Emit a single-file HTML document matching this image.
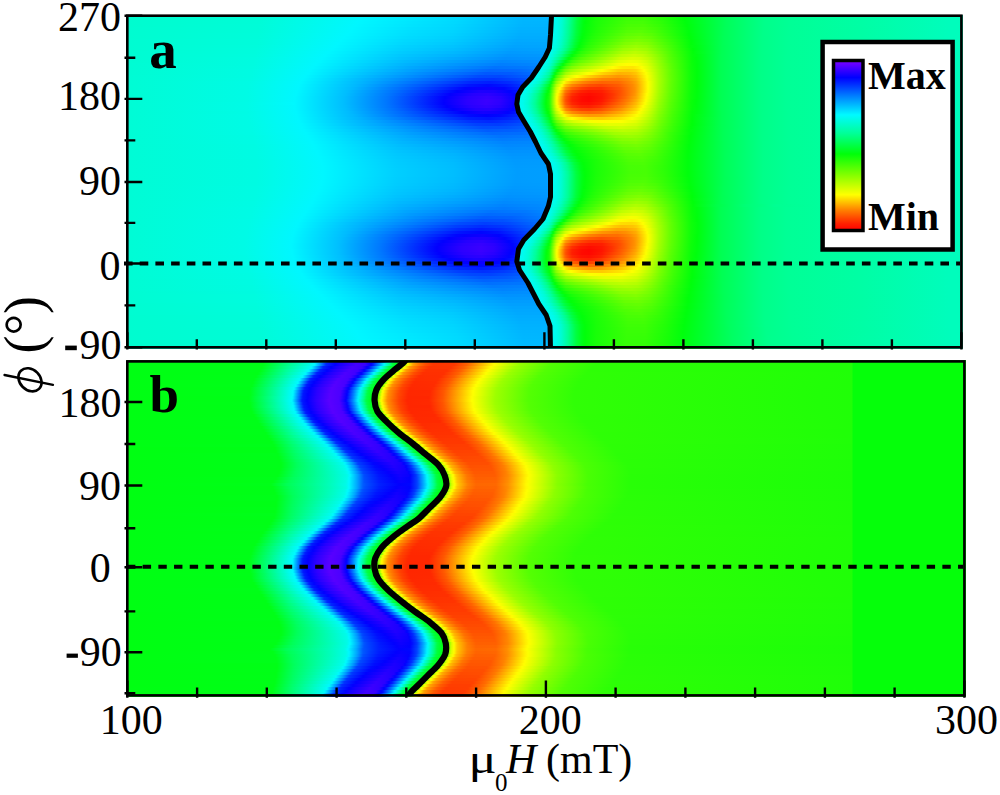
<!DOCTYPE html><html><head><meta charset="utf-8"><style>
html,body{margin:0;padding:0;background:#fff;width:1000px;height:795px;overflow:hidden}
.p{position:absolute;overflow:hidden}
.p i{display:block;height:3px}
svg{position:absolute;left:0;top:0}
text{font-family:"Liberation Serif",serif}
</style></head><body><div class="p" style="left:127px;top:15px;width:836px;height:334px"><i style="background:linear-gradient(90deg,#00fccf 0px,#00fcd6 132px,#00f7ff 235px,#00e7ff 290px,#00daff 331px,#00b8ff 397px,#00b7ff 423px,#00faf5 424px,#00fbed 430px,#00fcd4 435px,#00ff99 442px,#00ff42 450px,#00ff16 456px,#02ff0a 459px,#1aff08 470px,#3cff05 500px,#3bff05 518px,#21ff07 538px,#00ff0d 558px,#00ff5d 601px,#00ff8b 638px,#00ff96 664px,#00fea6 737px,#00fdbc 823px,#00fdbc 835px)"></i><i style="background:linear-gradient(90deg,#00fccf 0px,#00fcd7 132px,#00f7ff 233px,#00e6ff 289px,#00d9ff 330px,#00b6ff 396px,#00b6ff 423px,#00faf5 424px,#00fbec 430px,#00fcd3 435px,#00ff97 442px,#00ff41 450px,#00ff15 456px,#03ff0a 459px,#1bff08 470px,#3fff05 500px,#40ff05 517px,#28ff07 536px,#00ff0b 558px,#00ff5b 600px,#00ff8a 637px,#00ff96 663px,#00fea5 735px,#00fdbc 823px,#00fdbc 835px)"></i><i style="background:linear-gradient(90deg,#00fccf 0px,#00fcd7 131px,#00f7ff 231px,#00e4ff 288px,#00d8ff 329px,#00b5ff 396px,#00b4ff 423px,#00faf5 424px,#00fbeb 430px,#00fcd2 435px,#00ff96 442px,#00ff3f 450px,#00ff14 456px,#00ff0a 458px,#19ff08 468px,#42ff05 500px,#45ff05 516px,#30ff06 533px,#00ff0c 559px,#00ff59 599px,#00ff8a 637px,#00ff96 663px,#00fea5 735px,#00fdbc 823px,#00fdbc 835px)"></i><i style="background:linear-gradient(90deg,#00fccf 0px,#00fcd8 131px,#00f7ff 228px,#00e3ff 286px,#00d7ff 327px,#00b4ff 395px,#00b3ff 423px,#00fbf4 424px,#00fbeb 430px,#00fcd0 435px,#00ff93 442px,#00ff3d 450px,#00ff12 456px,#05ff0a 459px,#1fff08 471px,#48ff04 501px,#4aff04 517px,#33ff06 534px,#00ff0c 560px,#00ff59 599px,#00ff8a 637px,#00ff96 663px,#00fea5 735px,#00fdbc 823px,#00fdbc 835px)"></i><i style="background:linear-gradient(90deg,#00fcd0 0px,#00fcd8 131px,#00f7ff 225px,#00e1ff 284px,#00d6ff 326px,#00b2ff 394px,#00b1ff 423px,#00fbf4 424px,#00fbea 430px,#00fccf 435px,#00ff91 442px,#00ff3b 450px,#00ff10 456px,#07ff09 459px,#23ff07 472px,#4eff04 501px,#51ff04 516px,#3fff05 530px,#00ff0d 561px,#00ff58 598px,#00ff89 636px,#00ff96 662px,#00fea4 733px,#00fdbc 822px,#00fdbc 835px)"></i><i style="background:linear-gradient(90deg,#00fcd0 0px,#00fcd9 131px,#00f7ff 223px,#00dfff 283px,#00d4ff 326px,#00b0ff 394px,#00b0ff 423px,#00fbf4 424px,#00fbe9 430px,#00fccd 435px,#00ff8e 442px,#00ff41 449px,#00ff14 455px,#05ff0a 458px,#20ff07 469px,#54ff03 500px,#5aff03 514px,#4bff04 527px,#00ff0d 562px,#00ff56 597px,#00ff89 636px,#00ff96 662px,#00fea4 733px,#00fdbc 822px,#00fdbc 835px)"></i><i style="background:linear-gradient(90deg,#00fcd0 0px,#00fcda 131px,#00f7ff 220px,#00deff 281px,#00d2ff 325px,#00aeff 393px,#00aeff 423px,#00fbf4 424px,#00fbe8 430px,#00fccb 435px,#00ff8b 442px,#00ff3e 449px,#00ff11 455px,#04ff0a 457px,#20ff07 467px,#5dff03 500px,#64ff02 513px,#57ff03 525px,#00ff0b 562px,#00ff56 597px,#00ff89 636px,#00ff96 662px,#00fea4 733px,#00fdbc 822px,#00fdbc 835px)"></i><i style="background:linear-gradient(90deg,#00fcd0 0px,#00fcda 130px,#00f7ff 217px,#00dcff 279px,#00cfff 325px,#00acff 392px,#00acff 422px,#00fbf4 423px,#00fbea 429px,#00fccf 434px,#00ff92 441px,#00ff39 449px,#00ff0c 455px,#20ff08 465px,#66ff02 499px,#70ff01 512px,#62ff02 524px,#00ff0b 563px,#00ff55 596px,#00ff88 635px,#00ff96 661px,#00fea4 731px,#00fdbc 822px,#00fdbc 835px)"></i><i style="background:linear-gradient(90deg,#00fcd1 0px,#00fcdb 130px,#00f7ff 214px,#00d9ff 278px,#00ccff 325px,#00a9ff 390px,#00aaff 422px,#00fbf4 423px,#00fbe7 429px,#00fccc 434px,#00ff97 440px,#00ff3d 448px,#00ff0d 454px,#23ff07 464px,#72ff01 499px,#7cff00 511px,#71ff01 522px,#00ff0b 564px,#00ff55 596px,#00ff88 635px,#00ff96 661px,#00fea4 731px,#00fdbc 822px,#00fdbc 835px)"></i><i style="background:linear-gradient(90deg,#00fcd1 0px,#00fcdb 130px,#00f7ff 211px,#00d7ff 276px,#00c8ff 325px,#00a6ff 389px,#00a7ff 422px,#00fbf3 423px,#00fbe5 429px,#00fdc8 434px,#00ff91 440px,#00ff36 448px,#00ff0c 453px,#24ff07 462px,#7eff00 498px,#8bff00 510px,#7fff00 521px,#01ff0a 564px,#00ff55 596px,#00ff88 635px,#00ff96 661px,#00fea4 731px,#00fdbc 822px,#00fdbc 835px)"></i><i style="background:linear-gradient(90deg,#00fcd1 0px,#00fcdc 129px,#00f7ff 208px,#00d3ff 275px,#00c3ff 326px,#00a3ff 387px,#00a5ff 422px,#00fbf2 423px,#00fbe1 429px,#00fdc2 434px,#00ff88 440px,#00ff2d 448px,#00ff0b 452px,#26ff07 460px,#8bff00 497px,#9aff00 509px,#8eff00 520px,#05ff0a 563px,#00ff13 569px,#00ff53 595px,#00ff88 635px,#00ff96 661px,#00fea4 731px,#00fdbc 822px,#00fdbc 835px)"></i><i style="background:linear-gradient(90deg,#00fcd1 0px,#00fcdd 129px,#00f7ff 205px,#00d0ff 275px,#00beff 327px,#009fff 385px,#00a1ff 421px,#00fbf2 422px,#00fbe0 428px,#00fdb7 434px,#00ff90 438px,#00ff27 447px,#00ff0c 450px,#2aff07 458px,#9aff00 496px,#aaff00 509px,#9bff00 520px,#35ff06 549px,#00ff0a 566px,#00ff53 595px,#00ff88 635px,#00ff96 661px,#00fea4 731px,#00fdbc 822px,#00fdbc 835px)"></i><i style="background:linear-gradient(90deg,#00fcd2 0px,#00fcdd 128px,#00f7ff 201px,#00ccff 274px,#00b8ff 327px,#009aff 383px,#009dff 419px,#00fbf2 420px,#00fbeb 424px,#00fdc8 430px,#00ff91 436px,#00ff23 445px,#03ff0a 448px,#28ff07 454px,#51ff04 466px,#a9ff00 495px,#bbff00 508px,#acff00 519px,#40ff05 547px,#02ff0a 566px,#00ff53 595px,#00ff88 635px,#00ff96 661px,#00fea4 731px,#00fdbc 822px,#00fdbc 835px)"></i><i style="background:linear-gradient(90deg,#00fcd2 0px,#00fcde 128px,#00f7ff 198px,#00c7ff 274px,#00b1ff 328px,#0095ff 380px,#0098ff 415px,#0099ff 418px,#00fbf2 419px,#00fbeb 423px,#00fdc9 428px,#00ff91 434px,#00ff29 442px,#01ff0a 445px,#2cff07 451px,#51ff04 460px,#bdff00 495px,#ccff00 507px,#c1ff00 516px,#a2ff00 525px,#4bff04 545px,#06ff0a 565px,#00ff11 570px,#00ff52 594px,#00ff87 634px,#00ff96 660px,#00fea3 730px,#00fdbc 822px,#00fdbc 835px)"></i><i style="background:linear-gradient(90deg,#00fcd2 0px,#00fcdf 127px,#00f7ff 195px,#00c2ff 275px,#00a8ff 330px,#008fff 378px,#0093ff 413px,#0094ff 416px,#00fbf2 417px,#00fbe9 422px,#00fccc 426px,#00ff8d 432px,#00ff20 440px,#01ff0a 442px,#2bff07 447px,#50ff04 454px,#cdff00 493px,#ddff00 505px,#d9ff00 512px,#bfff00 521px,#53ff04 544px,#07ff09 565px,#00ff0d 569px,#00ff52 594px,#00ff87 634px,#00ff96 660px,#00fea3 730px,#00fdbc 822px,#00fdbc 835px)"></i><i style="background:linear-gradient(90deg,#00fcd2 0px,#00fbe0 127px,#00f7ff 192px,#00bbff 277px,#009eff 332px,#0087ff 375px,#008cff 410px,#008eff 414px,#00fbf3 415px,#00fbe6 421px,#00fcd0 424px,#00ff95 429px,#00ff12 438px,#04ff0a 439px,#3cff05 445px,#61ff02 452px,#e0ff00 492px,#efff00 504px,#ebff00 511px,#d0ff00 520px,#5fff03 542px,#09ff09 565px,#00ff0e 570px,#00ff52 594px,#00ff87 634px,#00ff96 660px,#00fea3 730px,#00fdbc 822px,#00fdbc 835px)"></i><i style="background:linear-gradient(90deg,#00fcd3 0px,#00fbe0 126px,#00f7ff 189px,#00b3ff 279px,#0091ff 337px,#007eff 374px,#0085ff 408px,#0088ff 412px,#00faf5 413px,#00fbe6 419px,#00fccd 423px,#00ff98 427px,#00ff44 432px,#02ff0a 436px,#33ff06 440px,#5cff03 445px,#81ff00 453px,#f4ff00 491px,#fffd00 500px,#fdff00 510px,#dbff00 520px,#88ff00 535px,#57ff03 545px,#0aff09 565px,#00ff0d 570px,#00ff52 594px,#00ff87 634px,#00ff96 660px,#00fea3 730px,#00fdbc 822px,#00fdbc 835px)"></i><i style="background:linear-gradient(90deg,#00fcd3 0px,#00fbe1 126px,#00f7ff 186px,#00a9ff 283px,#0073ff 368px,#0079ff 399px,#0080ff 410px,#00faf5 411px,#00fbec 416px,#00fcd0 421px,#00fdbd 423px,#00ff8c 426px,#00ff3b 430px,#00ff0b 433px,#50ff04 439px,#7eff00 445px,#a5ff00 455px,#fffe00 486px,#ffe800 495px,#ffe500 506px,#fff100 511px,#fcff00 515px,#daff00 522px,#97ff00 533px,#59ff03 545px,#0dff09 564px,#00ff0d 570px,#00ff52 594px,#00ff87 634px,#00ff96 660px,#00fea3 730px,#00fdbc 822px,#00fdbc 835px)"></i><i style="background:linear-gradient(90deg,#00fcd3 0px,#00fbe2 125px,#00f7ff 183px,#009dff 288px,#0067ff 363px,#006bff 391px,#0077ff 408px,#00faf5 409px,#00fbf2 413px,#00fcd8 418px,#00fdb7 422px,#00ff97 424px,#00ff10 430px,#09ff09 431px,#6dff01 438px,#96ff00 443px,#b6ff00 450px,#fffe00 475px,#ffd000 491px,#ffcb00 501px,#ffd600 509px,#ffff00 517px,#c1ff00 527px,#96ff00 534px,#5cff03 545px,#0eff09 564px,#00ff0c 570px,#00ff52 594px,#00ff87 634px,#00ff96 660px,#00fea3 730px,#00fdbc 822px,#00fdbc 835px)"></i><i style="background:linear-gradient(90deg,#00fcd3 0px,#00fbe2 124px,#00f7ff 181px,#008eff 294px,#0058ff 359px,#005bff 384px,#006dff 406px,#00faf5 407px,#00fbed 413px,#00fdca 418px,#00fea3 422px,#00ff92 423px,#00ff13 428px,#0fff09 429px,#41ff05 432px,#a0ff00 439px,#c7ff00 445px,#fbff00 461px,#fff800 465px,#ffcf00 477px,#ffb100 492px,#ffb700 503px,#ffc500 509px,#fdff00 519px,#9eff00 533px,#61ff02 544px,#0fff09 564px,#00ff0c 570px,#00ff52 594px,#00ff87 634px,#00ff96 660px,#00fea3 730px,#00fdbc 822px,#00fdbc 835px)"></i><i style="background:linear-gradient(90deg,#00fcd4 0px,#00fbe2 123px,#00f7ff 178px,#004aff 352px,#0047ff 373px,#0060ff 403px,#0061ff 404px,#00faf5 405px,#00fbee 411px,#00fcdd 414px,#00fea4 420px,#00ff8b 422px,#00ff76 423px,#00ff21 426px,#04ff0a 427px,#35ff06 429px,#5aff03 431px,#bdff00 438px,#dcff00 442px,#f4ff00 447px,#ffff00 450px,#ffce00 463px,#ffa900 476px,#ff9600 491px,#ffa000 501px,#ffb600 509px,#fdff00 520px,#a6ff00 532px,#62ff02 544px,#0fff09 564px,#00ff0c 570px,#00ff52 594px,#00ff87 634px,#00ff96 660px,#00fea3 730px,#00fdbc 822px,#00fdbc 835px)"></i><i style="background:linear-gradient(90deg,#00fcd4 0px,#00fbe3 123px,#00f7ff 176px,#00abff 247px,#0039ff 347px,#0033ff 367px,#0046ff 391px,#0055ff 402px,#00faf5 403px,#00fbec 409px,#00fcd7 413px,#00ff97 419px,#00ff6b 422px,#00ff54 423px,#00ff17 425px,#0fff09 426px,#5eff03 429px,#82ff00 431px,#e4ff00 438px,#fcff00 441px,#ffdb00 447px,#ffa600 460px,#ff8300 475px,#ff7d00 491px,#ff8e00 501px,#ffa900 509px,#fff200 519px,#fffb00 520px,#d4ff00 526px,#a8ff00 532px,#63ff02 544px,#0fff09 564px,#00ff0c 570px,#00ff52 594px,#00ff87 634px,#00ff96 660px,#00fea3 730px,#00fdbc 822px,#00fdbc 835px)"></i><i style="background:linear-gradient(90deg,#00fcd4 0px,#00fbe4 122px,#00f7ff 174px,#00b3ff 236px,#0028ff 343px,#001eff 363px,#002dff 383px,#0045ff 399px,#00faf5 400px,#00fbed 406px,#00fcd3 411px,#00fdb8 414px,#00ff83 418px,#00ff47 422px,#00ff2f 423px,#00ff0f 424px,#34ff06 426px,#85ff00 429px,#a9ff00 431px,#fcff00 437px,#ffe300 439px,#ffb300 445px,#ff8400 456px,#ff7200 463px,#ff6300 475px,#ff6b00 492px,#ff8b00 504px,#ffa000 509px,#ffed00 519px,#fdff00 521px,#a8ff00 532px,#62ff02 544px,#0eff09 564px,#00ff0c 570px,#00ff52 594px,#00ff87 634px,#00ff96 660px,#00fea3 730px,#00fdbc 822px,#00fdbc 835px)"></i><i style="background:linear-gradient(90deg,#00fcd4 0px,#00fbe4 121px,#00f7ff 172px,#00b8ff 229px,#0015ff 341px,#0009ff 361px,#0017ff 379px,#0034ff 396px,#00faf5 397px,#00fbed 403px,#00fcd4 408px,#00feab 413px,#00ff26 422px,#00ff0f 423px,#54ff03 426px,#a6ff00 429px,#bbff00 430px,#ffff00 435px,#ffc400 438px,#ffad00 440px,#ff8500 445px,#ff6000 455px,#ff4f00 462px,#ff4500 474px,#ff5c00 492px,#ff8a00 506px,#ffa100 510px,#fff600 520px,#feff00 521px,#a7ff00 532px,#61ff02 544px,#0eff09 564px,#00ff0c 570px,#00ff52 594px,#00ff87 634px,#00ff96 660px,#00fea3 730px,#00fdbc 822px,#00fdbc 835px)"></i><i style="background:linear-gradient(90deg,#00fcd4 0px,#00fbe4 121px,#00f7ff 171px,#00baff 225px,#0060ff 282px,#0004ff 338px,#0800ff 350px,#0b00ff 364px,#0004ff 377px,#0025ff 394px,#00faf5 395px,#00fbec 401px,#00fcd2 406px,#00ffa0 412px,#00ff85 414px,#00ff1c 421px,#00ff0f 422px,#11ff09 423px,#c0ff00 429px,#d5ff00 430px,#ffff00 433px,#ffb300 437px,#ff9d00 438px,#ff8e00 439px,#ff6100 445px,#ff3d00 455px,#ff2f00 462px,#ff2d00 474px,#ff5400 493px,#ff9000 508px,#ffec00 519px,#fdff00 521px,#a6ff00 532px,#60ff02 544px,#0eff09 564px,#00ff0d 570px,#00ff52 594px,#00ff87 634px,#00ff96 660px,#00fea3 730px,#00fdbc 822px,#00fdbc 835px)"></i><i style="background:linear-gradient(90deg,#00fcd5 0px,#00fbe5 120px,#00f7ff 170px,#00bcff 221px,#006fff 269px,#0100ff 330px,#1e00ff 353px,#1b00ff 367px,#0003ff 384px,#0015ff 392px,#00faf5 393px,#00fbed 399px,#00fcd4 404px,#00ff99 411px,#00ff71 414px,#00ff18 420px,#00ff0b 421px,#0aff09 422px,#1fff08 423px,#b6ff00 428px,#d3ff00 429px,#e8ff00 430px,#f7ff00 431px,#fff700 432px,#ffab00 436px,#ff7e00 438px,#ff6900 440px,#ff4400 445px,#ff2300 454px,#ff1800 462px,#ff1e00 475px,#ff4f00 493px,#ff9100 508px,#ffef00 519px,#fbff00 521px,#a4ff00 532px,#5fff03 544px,#0dff09 564px,#00ff0d 570px,#00ff52 594px,#00ff87 634px,#00ff96 660px,#00fea3 730px,#00fdbc 822px,#00fdbc 835px)"></i><i style="background:linear-gradient(90deg,#00fcd5 0px,#00fbe5 120px,#00f7ff 169px,#00bdff 219px,#0073ff 264px,#0300ff 323px,#2600ff 346px,#2d00ff 361px,#1d00ff 375px,#0002ff 388px,#0007ff 390px,#00faf5 391px,#00fbee 397px,#00fcd5 402px,#00ff9c 409px,#00ff6e 413px,#00ff16 419px,#00ff0a 420px,#15ff08 422px,#2aff07 423px,#c4ff00 428px,#e1ff00 429px,#f7ff00 430px,#fff600 431px,#ff9500 436px,#ff6a00 438px,#ff5500 440px,#ff2f00 445px,#ff1500 453px,#ff0c00 462px,#ff1700 475px,#ff3500 486px,#ff6400 498px,#ff9500 508px,#ffff00 520px,#a1ff00 532px,#5dff03 544px,#0cff09 564px,#00ff0e 570px,#00ff52 594px,#00ff87 634px,#00ff96 660px,#00fea3 730px,#00fdbc 822px,#00fdbc 835px)"></i><i style="background:linear-gradient(90deg,#00fcd5 0px,#00fbe5 120px,#00f7ff 168px,#00beff 217px,#0077ff 260px,#0100ff 318px,#2900ff 341px,#3600ff 360px,#2a00ff 373px,#0001ff 390px,#00faf5 391px,#00fbec 397px,#00fcd1 402px,#00ff96 409px,#00ff67 413px,#00ff11 419px,#05ff0a 420px,#1aff08 422px,#2fff06 423px,#cbff00 428px,#e9ff00 429px,#ffff00 430px,#ff5e00 438px,#ff4800 440px,#ff2200 445px,#ff0b00 455px,#ff0600 462px,#ff1500 475px,#ff3400 485px,#ff6900 498px,#ffa300 509px,#fffa00 519px,#f3ff00 521px,#9eff00 532px,#5bff03 544px,#0cff09 564px,#00ff0e 570px,#00ff52 594px,#00ff87 634px,#00ff96 660px,#00fea3 730px,#00fdbc 822px,#00fdbc 835px)"></i><i style="background:linear-gradient(90deg,#00fcd5 0px,#00fbe5 120px,#00f7ff 168px,#00beff 217px,#0076ff 260px,#0300ff 317px,#2b00ff 340px,#3a00ff 360px,#2e00ff 373px,#0500ff 389px,#00faf5 390px,#00fbee 396px,#00fcd5 401px,#00ff9b 408px,#00ff63 413px,#00ff0e 419px,#1cff08 422px,#31ff06 423px,#cdff00 428px,#ebff00 429px,#fffb00 430px,#ff5a00 438px,#ff4c00 439px,#ff1f00 445px,#ff0a00 455px,#ff0600 462px,#ff1800 475px,#ff4700 488px,#ff8500 502px,#ffad00 509px,#fdff00 519px,#9aff00 532px,#59ff03 544px,#0bff09 564px,#00ff0c 569px,#00ff52 594px,#00ff87 634px,#00ff96 660px,#00fea3 730px,#00fdbc 822px,#00fdbc 835px)"></i><i style="background:linear-gradient(90deg,#00fcd5 0px,#00fbe6 120px,#00f8ff 167px,#00bfff 216px,#0078ff 259px,#0100ff 317px,#2a00ff 340px,#3900ff 359px,#2e00ff 372px,#0400ff 389px,#00faf5 390px,#00fbec 396px,#00fcd2 401px,#00ff98 408px,#00ff5f 413px,#00ff0c 419px,#1dff08 422px,#31ff06 423px,#cbff00 428px,#e8ff00 429px,#feff00 430px,#ff8b00 436px,#ff6200 438px,#ff4c00 440px,#ff2700 445px,#ff1100 454px,#ff0e00 462px,#ff1f00 474px,#ff7900 497px,#ffb900 509px,#fdff00 518px,#96ff00 532px,#56ff03 544px,#0aff09 564px,#00ff0d 569px,#00ff52 594px,#00ff87 634px,#00ff96 660px,#00fea3 730px,#00fdbc 822px,#00fdbc 835px)"></i><i style="background:linear-gradient(90deg,#00fcd5 0px,#00fbe6 120px,#00f7ff 168px,#00bdff 218px,#0074ff 262px,#0100ff 320px,#2800ff 344px,#3200ff 360px,#2600ff 373px,#0001ff 389px,#00faf5 390px,#00fbee 396px,#00fcd6 401px,#00ff9c 408px,#00ff64 413px,#00ff10 419px,#0fff09 421px,#18ff08 422px,#2cff07 423px,#c0ff00 428px,#ddff00 429px,#f2ff00 430px,#fffd00 431px,#ffa000 436px,#ff7500 438px,#ff6000 440px,#ff3d00 445px,#ff2200 454px,#ff1e00 462px,#ff3400 474px,#ff8500 496px,#ffc700 509px,#fffe00 516px,#caff00 524px,#92ff00 532px,#54ff03 544px,#07ff09 565px,#00ff10 570px,#00ff52 594px,#00ff87 634px,#00ff96 660px,#00fea3 730px,#00fdbc 822px,#00fdbc 835px)"></i><i style="background:linear-gradient(90deg,#00fcd5 0px,#00fbe6 120px,#00f7ff 168px,#00bdff 219px,#0071ff 266px,#0100ff 326px,#2200ff 349px,#2500ff 363px,#1100ff 378px,#0002ff 386px,#000bff 390px,#00faf5 391px,#00fbed 397px,#00fcd3 402px,#00ff99 409px,#00ff6b 413px,#00ff17 419px,#00ff0c 420px,#12ff09 422px,#25ff07 423px,#b1ff00 428px,#cbff00 429px,#dfff00 430px,#faff00 432px,#fff500 433px,#ffab00 437px,#ff9700 438px,#ff8800 439px,#ff5f00 445px,#ff4400 454px,#ff3e00 462px,#ff5000 474px,#ff9100 494px,#ffd700 509px,#fffc00 514px,#d7ff00 521px,#8dff00 532px,#51ff04 544px,#06ff0a 565px,#00ff11 570px,#00ff52 594px,#00ff87 634px,#00ff96 660px,#00fea3 730px,#00fdbc 822px,#00fdbc 835px)"></i><i style="background:linear-gradient(90deg,#00fcd5 0px,#00fbe5 120px,#00f7ff 169px,#00bbff 222px,#0069ff 274px,#0000ff 335px,#1500ff 356px,#0f00ff 370px,#0003ff 381px,#0018ff 391px,#00faf5 392px,#00fbec 398px,#00fcd2 403px,#00ff97 410px,#00ff65 414px,#00ff15 420px,#00ff0a 421px,#0aff09 422px,#1cff08 423px,#b5ff00 429px,#d3ff00 431px,#f7ff00 434px,#fffa00 435px,#ffc400 438px,#ffaf00 440px,#ff8b00 445px,#ff7000 454px,#ff6700 462px,#ff7200 474px,#ffaf00 495px,#ffe900 509px,#fffd00 512px,#ceff00 521px,#88ff00 532px,#4aff04 545px,#04ff0a 565px,#00ff12 570px,#00ff53 595px,#00ff88 635px,#00ff96 661px,#00fea4 731px,#00fdbc 822px,#00fdbc 835px)"></i><i style="background:linear-gradient(90deg,#00fcd5 0px,#00fbe6 121px,#00f7ff 170px,#00b8ff 226px,#003dff 307px,#000aff 342px,#0100ff 359px,#0008ff 374px,#0028ff 393px,#00faf5 394px,#00fbeb 400px,#00fcd0 405px,#00ff94 412px,#00ff26 420px,#00ff10 422px,#0cff09 423px,#99ff00 429px,#b5ff00 431px,#f8ff00 437px,#fff700 438px,#ffe400 440px,#ffc400 445px,#ffa400 455px,#ff9900 462px,#ff9d00 474px,#ffca00 495px,#fcff00 510px,#c5ff00 521px,#82ff00 532px,#47ff04 545px,#03ff0a 565px,#00ff28 578px,#00ff53 595px,#00ff88 635px,#00ff96 661px,#00fea4 731px,#00fdbc 822px,#00fdbc 835px)"></i><i style="background:linear-gradient(90deg,#00fcd5 0px,#00fbe6 122px,#00f7ff 171px,#00b5ff 231px,#001eff 342px,#0013ff 362px,#0022ff 381px,#0036ff 394px,#00faf5 395px,#00fbee 401px,#00fcd5 406px,#00ff9b 413px,#00ff2e 421px,#00ff22 422px,#00ff10 423px,#28ff07 425px,#7bff00 429px,#95ff00 431px,#e4ff00 439px,#ffff00 445px,#ffdc00 457px,#ffd100 464px,#ffcc00 475px,#ffe400 494px,#fcff00 505px,#e5ff00 512px,#b5ff00 522px,#78ff01 533px,#44ff05 545px,#02ff0a 565px,#00ff53 595px,#00ff88 635px,#00ff96 661px,#00fea4 731px,#00fdbc 822px,#00fdbc 835px)"></i><i style="background:linear-gradient(90deg,#00fcd5 0px,#00fbe5 122px,#00f7ff 172px,#00b1ff 238px,#0030ff 345px,#0027ff 365px,#0039ff 387px,#0045ff 396px,#00faf5 397px,#00fbed 403px,#00fcd4 408px,#00feab 413px,#00ff37 422px,#00ff0f 424px,#37ff06 427px,#69ff02 430px,#bbff00 439px,#d7ff00 447px,#f7ff00 463px,#fffb00 474px,#fcff00 494px,#e2ff00 509px,#b1ff00 521px,#72ff01 533px,#3eff05 546px,#01ff0a 565px,#00ff53 595px,#00ff88 635px,#00ff96 661px,#00fea4 731px,#00fdbc 822px,#00fdbc 835px)"></i><i style="background:linear-gradient(90deg,#00fcd5 0px,#00fbe5 123px,#00f7ff 174px,#00a6ff 252px,#0040ff 350px,#003cff 371px,#0052ff 398px,#00faf5 399px,#00fbec 405px,#00fcd3 410px,#00feb1 414px,#00ff74 419px,#00ff3d 423px,#00ff14 425px,#09ff09 426px,#49ff04 430px,#94ff00 439px,#aeff00 447px,#d5ff00 467px,#e5ff00 481px,#e4ff00 496px,#d0ff00 510px,#a7ff00 521px,#69ff02 534px,#3bff05 546px,#00ff0a 565px,#00ff53 595px,#00ff88 635px,#00ff96 661px,#00fea4 731px,#00fdbc 822px,#00fdbc 835px)"></i><i style="background:linear-gradient(90deg,#00fcd5 0px,#00fbe5 124px,#00f7ff 175px,#0083ff 297px,#004eff 356px,#004fff 379px,#005fff 400px,#00faf5 401px,#00fbec 407px,#00fcd2 412px,#00ff98 418px,#00ff55 423px,#00ff0c 427px,#29ff07 430px,#6aff02 438px,#86ff00 446px,#c3ff00 477px,#d0ff00 494px,#c3ff00 509px,#9cff00 521px,#5fff03 535px,#34ff06 547px,#01ff0a 564px,#00ff53 595px,#00ff88 635px,#00ff96 661px,#00fea4 731px,#00fdbc 822px,#00fdbc 835px)"></i><i style="background:linear-gradient(90deg,#00fcd5 0px,#00fbe5 124px,#00f7ff 177px,#0092ff 290px,#005cff 361px,#0060ff 388px,#0069ff 402px,#00faf5 403px,#00fbeb 409px,#00fccf 414px,#00ff96 420px,#00ff6e 423px,#00ff0b 429px,#35ff06 435px,#50ff04 439px,#6aff02 448px,#afff00 482px,#bbff00 496px,#b2ff00 510px,#92ff00 521px,#4fff04 538px,#04ff0a 562px,#00ff14 568px,#00ff55 596px,#00ff88 635px,#00ff96 661px,#00fea4 731px,#00fdbc 822px,#00fdbc 835px)"></i><i style="background:linear-gradient(90deg,#00fcd5 0px,#00fbe5 125px,#00f7ff 179px,#009fff 284px,#0069ff 366px,#006eff 396px,#0072ff 403px,#00faf5 404px,#00fbed 410px,#00fcd3 415px,#00ff93 422px,#00ff1c 430px,#03ff0a 432px,#35ff06 439px,#4fff04 448px,#a0ff00 487px,#aaff00 500px,#a2ff00 511px,#85ff00 522px,#39ff06 543px,#00ff0c 564px,#00ff55 596px,#00ff88 635px,#00ff96 661px,#00fea4 731px,#00fdbc 822px,#00fdbc 835px)"></i><i style="background:linear-gradient(90deg,#00fcd5 0px,#00fbe4 126px,#00f7ff 181px,#00a9ff 280px,#0083ff 341px,#0073ff 374px,#007aff 405px,#00faf5 406px,#00fbec 412px,#00fccf 417px,#00ff99 423px,#00ff37 430px,#00ff0e 434px,#12ff09 437px,#2eff06 443px,#91ff00 490px,#9aff00 504px,#92ff00 513px,#76ff01 524px,#2eff06 546px,#00ff0b 563px,#00ff55 596px,#00ff88 635px,#00ff96 661px,#00fea4 731px,#00fdbc 822px,#00fdbc 835px)"></i><i style="background:linear-gradient(90deg,#00fcd5 0px,#00fbe4 126px,#00f7ff 183px,#00b1ff 276px,#0092ff 334px,#007cff 375px,#0081ff 406px,#00faf5 407px,#00fbed 413px,#00fcd3 418px,#00fea9 423px,#00ff3a 432px,#00ff0c 437px,#1fff08 444px,#65ff02 477px,#86ff00 495px,#8bff00 509px,#76ff01 521px,#24ff07 549px,#00ff0c 563px,#00ff55 596px,#00ff88 635px,#00ff96 661px,#00fea4 731px,#00fdbc 822px,#00fdbc 835px)"></i><i style="background:linear-gradient(90deg,#00fcd5 0px,#00fbe4 127px,#00f7ff 185px,#00b7ff 274px,#009cff 331px,#0084ff 376px,#0087ff 408px,#00faf5 409px,#00fbeb 415px,#00fcd0 420px,#00fea4 425px,#00ff3b 434px,#00ff11 439px,#04ff0a 441px,#1dff08 449px,#4eff04 474px,#78ff01 495px,#80ff00 509px,#6bff02 522px,#17ff08 553px,#00ff0d 563px,#00ff56 597px,#00ff89 636px,#00ff96 662px,#00fea4 733px,#00fdbc 822px,#00fdbc 835px)"></i><i style="background:linear-gradient(90deg,#00fcd5 0px,#00fbe3 127px,#00f7ff 187px,#00bdff 272px,#00a3ff 330px,#0089ff 379px,#008bff 409px,#00faf5 410px,#00fbed 416px,#00fcd4 421px,#00ff9f 427px,#00ff3b 436px,#00ff15 441px,#00ff0a 443px,#19ff08 452px,#46ff05 476px,#6dff01 496px,#74ff01 510px,#64ff02 522px,#00ff0c 562px,#00ff56 597px,#00ff89 636px,#00ff96 662px,#00fea4 733px,#00fdbc 822px,#00fdbc 835px)"></i><i style="background:linear-gradient(90deg,#00fcd5 0px,#00fbe3 128px,#00f7ff 188px,#00c2ff 270px,#00aaff 329px,#008eff 381px,#0090ff 411px,#00faf5 412px,#00fbeb 418px,#00fcd0 423px,#00ff8f 430px,#00ff39 438px,#00ff11 444px,#05ff0a 447px,#23ff07 463px,#63ff02 497px,#6aff02 511px,#5bff03 523px,#00ff0d 562px,#00ff56 597px,#00ff89 636px,#00ff96 662px,#00fea4 733px,#00fdbc 822px,#00fdbc 835px)"></i><i style="background:linear-gradient(90deg,#00fcd5 0px,#00fbe3 128px,#00f7ff 190px,#00c5ff 270px,#00afff 328px,#0092ff 383px,#0093ff 412px,#00faf5 413px,#00fbec 419px,#00fcd3 424px,#00ff96 431px,#00ff40 439px,#00ff16 445px,#01ff0a 448px,#1aff08 461px,#5dff03 499px,#62ff02 512px,#51ff04 525px,#00ff0b 561px,#00ff56 597px,#00ff89 636px,#00ff96 662px,#00fea4 733px,#00fdbc 822px,#00fdbc 835px)"></i><i style="background:linear-gradient(90deg,#00fcd5 0px,#00fbe3 128px,#00f7ff 191px,#00c8ff 269px,#00b4ff 327px,#0095ff 385px,#0096ff 414px,#00faf5 415px,#00fbec 421px,#00fcd1 426px,#00ff94 433px,#00ff48 440px,#00ff1b 446px,#00ff0a 450px,#1bff08 464px,#56ff03 500px,#5aff03 513px,#4bff04 526px,#00ff0c 561px,#00ff58 598px,#00ff89 636px,#00ff96 662px,#00fea4 733px,#00fdbc 822px,#00fdbc 835px)"></i><i style="background:linear-gradient(90deg,#00fcd5 0px,#00fbe3 129px,#00f7ff 193px,#00caff 269px,#00b7ff 327px,#0098ff 386px,#0098ff 416px,#00faf5 417px,#00fbec 423px,#00fcd1 428px,#00ff95 435px,#00ff40 443px,#00ff17 449px,#00ff0a 452px,#19ff08 465px,#51ff04 501px,#54ff03 515px,#41ff05 529px,#00ff0c 561px,#00ff58 598px,#00ff89 636px,#00ff96 662px,#00fea4 733px,#00fdbc 822px,#00fdbc 835px)"></i><i style="background:linear-gradient(90deg,#00fcd5 0px,#00fbe2 129px,#00f7ff 194px,#00ccff 269px,#00baff 326px,#009aff 387px,#009bff 418px,#00faf5 419px,#00fbec 425px,#00fcd2 430px,#00ff96 437px,#00ff40 445px,#00ff17 451px,#03ff0a 455px,#27ff07 476px,#4dff04 502px,#4fff04 516px,#3bff05 531px,#00ff0d 561px,#00ff58 598px,#00ff89 636px,#00ff96 662px,#00fea4 733px,#00fdbc 822px,#00fdbc 835px)"></i><i style="background:linear-gradient(90deg,#00fcd5 0px,#00fbe2 129px,#00f7ff 195px,#00cdff 269px,#00bcff 326px,#009bff 388px,#009cff 420px,#00faf5 421px,#00fbec 427px,#00fcd2 432px,#00ff96 439px,#00ff40 447px,#00ff16 453px,#01ff0a 456px,#19ff08 468px,#49ff04 502px,#4bff04 517px,#34ff06 534px,#00ff0d 561px,#00ff58 598px,#00ff89 636px,#00ff96 662px,#00fea4 733px,#00fdbc 822px,#00fdbc 835px)"></i><i style="background:linear-gradient(90deg,#00fcd5 0px,#00fbe2 129px,#00f7ff 196px,#00ceff 269px,#00bdff 326px,#009cff 389px,#009dff 421px,#00faf5 422px,#00fbeb 428px,#00fcd1 433px,#00ff94 440px,#00ff3f 448px,#00ff15 454px,#02ff0a 457px,#1aff08 469px,#46ff05 502px,#48ff04 518px,#2fff06 536px,#00ff0d 561px,#00ff58 598px,#00ff89 636px,#00ff96 662px,#00fea4 733px,#00fdbc 822px,#00fdbc 835px)"></i><i style="background:linear-gradient(90deg,#00fcd5 0px,#00fbe2 129px,#00f7ff 196px,#00cfff 269px,#00beff 326px,#009dff 389px,#009eff 422px,#00faf5 423px,#00fbea 429px,#00fcce 434px,#00ff90 441px,#00ff44 448px,#00ff18 454px,#00ff0a 457px,#18ff08 468px,#46ff05 503px,#47ff04 519px,#2bff07 538px,#00ff0d 561px,#00ff58 598px,#00ff89 636px,#00ff96 662px,#00fea4 733px,#00fdbc 822px,#00fdbc 835px)"></i><i style="background:linear-gradient(90deg,#00fcd5 0px,#00fbe2 129px,#00f7ff 196px,#00cfff 269px,#00beff 326px,#009dff 390px,#009eff 422px,#00faf5 423px,#00fbec 429px,#00fcd2 434px,#00ff97 441px,#00ff40 449px,#00ff15 455px,#02ff0a 458px,#1bff08 470px,#45ff05 503px,#47ff04 519px,#2cff07 538px,#00ff0c 561px,#00ff58 598px,#00ff89 636px,#00ff96 662px,#00fea4 733px,#00fdbc 822px,#00fdbc 835px)"></i><i style="background:linear-gradient(90deg,#00fcd5 0px,#00fbe2 129px,#00f7ff 196px,#00cfff 269px,#00beff 326px,#009dff 389px,#009eff 422px,#00faf5 423px,#00fbed 429px,#00fcd4 434px,#00ff9a 441px,#00ff43 449px,#00ff17 455px,#01ff0a 458px,#1aff08 469px,#47ff04 503px,#48ff04 519px,#2fff06 537px,#00ff0c 561px,#00ff58 598px,#00ff89 636px,#00ff96 662px,#00fea4 733px,#00fdbc 822px,#00fdbc 835px)"></i><i style="background:linear-gradient(90deg,#00fcd5 0px,#00fbe2 129px,#00f7ff 196px,#00ceff 269px,#00bdff 326px,#009dff 389px,#009eff 422px,#00faf5 423px,#00fbed 429px,#00fcd4 434px,#00ff99 441px,#00ff43 449px,#00ff16 455px,#02ff0a 458px,#1bff08 469px,#49ff04 503px,#4bff04 519px,#31ff06 537px,#00ff0d 562px,#00ff56 597px,#00ff89 636px,#00ff96 662px,#00fea4 733px,#00fdbc 822px,#00fdbc 835px)"></i><i style="background:linear-gradient(90deg,#00fcd5 0px,#00fbe2 129px,#00f7ff 195px,#00cdff 269px,#00bcff 326px,#009cff 388px,#009eff 422px,#00faf5 423px,#00fbed 429px,#00fcd4 434px,#00ff99 441px,#00ff42 449px,#00ff16 455px,#02ff0a 458px,#1cff08 469px,#4dff04 503px,#50ff04 518px,#3aff05 534px,#00ff0c 562px,#00ff56 597px,#00ff89 636px,#00ff96 662px,#00fea4 733px,#00fdbc 822px,#00fdbc 835px)"></i><i style="background:linear-gradient(90deg,#00fcd5 0px,#00fbe2 129px,#00f7ff 194px,#00ccff 269px,#00baff 326px,#009bff 388px,#009dff 422px,#00faf5 423px,#00fbec 429px,#00fcd4 434px,#00ff99 441px,#00ff42 449px,#00ff15 455px,#03ff0a 458px,#1dff08 469px,#52ff04 502px,#57ff03 516px,#48ff04 529px,#00ff0d 563px,#00ff56 597px,#00ff89 636px,#00ff96 662px,#00fea4 733px,#00fdbc 822px,#00fdbc 835px)"></i><i style="background:linear-gradient(90deg,#00fcd5 0px,#00fbe3 129px,#00f7ff 193px,#00caff 269px,#00b8ff 327px,#0099ff 387px,#009cff 422px,#00fbf4 423px,#00fbec 429px,#00fcd4 434px,#00ff98 441px,#00ff41 449px,#00ff14 455px,#00ff0a 457px,#1cff08 467px,#59ff03 502px,#5fff03 515px,#50ff04 528px,#00ff0b 563px,#00ff55 596px,#00ff88 635px,#00ff96 661px,#00fea4 731px,#00fdbc 822px,#00fdbc 835px)"></i><i style="background:linear-gradient(90deg,#00fcd5 0px,#00fbe3 129px,#00f7ff 192px,#00c8ff 269px,#00b5ff 327px,#0097ff 385px,#009aff 422px,#00fbf4 423px,#00fbec 429px,#00fcd3 434px,#00ff97 441px,#00ff3f 449px,#00ff12 455px,#06ff0a 458px,#25ff07 470px,#62ff02 502px,#68ff02 514px,#5bff03 526px,#00ff0c 564px,#00ff55 596px,#00ff88 635px,#00ff96 661px,#00fea4 731px,#00fdbc 822px,#00fdbc 835px)"></i><i style="background:linear-gradient(90deg,#00fcd5 0px,#00fbe3 128px,#00f7ff 190px,#00c6ff 269px,#00b1ff 328px,#0095ff 383px,#0098ff 420px,#0099ff 422px,#00fbf4 423px,#00fbeb 429px,#00fcd2 434px,#00ff96 441px,#00ff3d 449px,#00ff10 455px,#05ff0a 457px,#22ff07 467px,#6bff02 501px,#73ff01 513px,#68ff02 524px,#00ff0c 565px,#00ff55 596px,#00ff88 635px,#00ff96 661px,#00fea4 731px,#00fdbc 822px,#00fdbc 835px)"></i><i style="background:linear-gradient(90deg,#00fcd5 0px,#00fbe3 128px,#00f7ff 188px,#00c3ff 269px,#00acff 329px,#0092ff 381px,#0095ff 417px,#0097ff 422px,#00fbf4 423px,#00fbea 429px,#00fcd1 434px,#00ff94 441px,#00ff3a 449px,#00ff0c 455px,#22ff07 465px,#75ff01 500px,#80ff00 512px,#76ff01 522px,#00ff0a 565px,#00ff53 595px,#00ff88 635px,#00ff96 661px,#00fea4 731px,#00fdbc 822px,#00fdbc 835px)"></i><i style="background:linear-gradient(90deg,#00fcd5 0px,#00fbe3 127px,#00f7ff 187px,#00bfff 270px,#00a6ff 330px,#008eff 379px,#0092ff 415px,#0095ff 422px,#00fbf3 423px,#00fbe7 429px,#00fccb 434px,#00ff96 440px,#00ff3b 448px,#00ff0a 454px,#21ff07 462px,#81ff00 499px,#8eff00 511px,#84ff00 521px,#02ff0a 565px,#00ff53 595px,#00ff88 635px,#00ff96 661px,#00fea4 731px,#00fdbc 822px,#00fdbc 835px)"></i><i style="background:linear-gradient(90deg,#00fcd5 0px,#00fbe4 127px,#00f7ff 185px,#00baff 271px,#009fff 332px,#0089ff 377px,#008eff 413px,#0092ff 421px,#00fbf3 422px,#00fbe6 428px,#00fdc3 434px,#00ff89 440px,#00ff2f 448px,#00ff0d 452px,#29ff07 462px,#8fff00 498px,#9eff00 510px,#93ff00 520px,#51ff04 540px,#01ff0a 566px,#00ff53 595px,#00ff88 635px,#00ff96 661px,#00fea4 731px,#00fdbc 822px,#00fdbc 835px)"></i><i style="background:linear-gradient(90deg,#00fcd5 0px,#00fbe4 126px,#00f7ff 183px,#00b4ff 273px,#0096ff 335px,#0083ff 376px,#008aff 412px,#008fff 421px,#00fbf3 422px,#00fbe1 428px,#00fdb9 434px,#00ff86 439px,#00ff2a 447px,#02ff0a 451px,#26ff07 458px,#9eff00 497px,#aeff00 509px,#a3ff00 519px,#63ff02 537px,#2fff06 552px,#03ff0a 566px,#00ff49 590px,#00ff75 618px,#00ff92 648px,#00fea8 743px,#00fdbc 825px,#00fdbc 835px)"></i><i style="background:linear-gradient(90deg,#00fcd5 0px,#00fbe5 126px,#00f7ff 181px,#00adff 276px,#0089ff 341px,#007cff 377px,#0087ff 413px,#008aff 419px,#00fbf2 420px,#00fbe8 425px,#00fdc3 431px,#00ff96 436px,#00ff29 445px,#00ff0d 448px,#2cff07 456px,#abff00 495px,#bfff00 507px,#b6ff00 517px,#94ff00 527px,#47ff04 546px,#07ff09 565px,#00ff10 570px,#00ff52 594px,#00ff87 634px,#00ff96 660px,#00fea3 730px,#00fdbc 822px,#00fdbc 835px)"></i><i style="background:linear-gradient(90deg,#00fcd5 0px,#00fbe5 125px,#00f7ff 179px,#00a5ff 279px,#0074ff 365px,#007aff 399px,#0086ff 418px,#00fbf2 419px,#00fbec 423px,#00fccd 428px,#00ff97 434px,#00ff25 443px,#03ff0a 446px,#2cff07 452px,#55ff03 463px,#bfff00 495px,#d1ff00 507px,#c7ff00 516px,#a7ff00 525px,#4fff04 545px,#08ff09 565px,#00ff0f 570px,#00ff52 594px,#00ff87 634px,#00ff96 660px,#00fea3 730px,#00fdbc 822px,#00fdbc 835px)"></i><i style="background:linear-gradient(90deg,#00fcd5 0px,#00fbe5 124px,#00f7ff 177px,#009bff 283px,#006aff 361px,#006fff 392px,#0081ff 417px,#00fbf2 418px,#00fbe7 423px,#00fdbf 428px,#00ff8a 433px,#00ff1f 441px,#02ff0a 443px,#31ff06 449px,#57ff03 457px,#d3ff00 494px,#e3ff00 506px,#ddff00 513px,#c5ff00 521px,#5aff03 543px,#09ff09 565px,#00ff0e 570px,#00ff52 594px,#00ff87 634px,#00ff96 660px,#00fea3 730px,#00fdbc 822px,#00fdbc 835px)"></i><i style="background:linear-gradient(90deg,#00fcd5 0px,#00fbe5 123px,#00f7ff 175px,#008fff 288px,#005dff 357px,#0062ff 385px,#007bff 416px,#00fbf1 417px,#00fbe6 422px,#00fdc4 426px,#00ff7b 432px,#00ff15 439px,#01ff0a 440px,#39ff06 446px,#61ff02 453px,#e5ff00 492px,#f6ff00 504px,#f3ff00 510px,#d6ff00 520px,#81ff00 536px,#56ff03 545px,#0aff09 565px,#00ff0d 570px,#00ff52 594px,#00ff87 634px,#00ff96 660px,#00fea3 730px,#00fdbc 822px,#00fdbc 835px)"></i><i style="background:linear-gradient(90deg,#00fcd5 0px,#00fbe6 123px,#00f7ff 173px,#0080ff 294px,#0050ff 352px,#0052ff 376px,#0074ff 414px,#00fbf2 415px,#00fbe2 421px,#00fcd4 423px,#00ff94 428px,#00ff16 436px,#03ff0a 437px,#33ff06 441px,#5cff03 446px,#83ff00 454px,#f8ff00 490px,#fffb00 495px,#fff200 505px,#fff800 510px,#fcff00 513px,#dcff00 521px,#90ff00 534px,#59ff03 545px,#0eff09 564px,#00ff0c 570px,#00ff52 594px,#00ff87 634px,#00ff96 660px,#00fea3 730px,#00fdbc 822px,#00fdbc 835px)"></i><i style="background:linear-gradient(90deg,#00fcd5 0px,#00fbe6 122px,#00f7ff 171px,#00abff 243px,#004cff 333px,#003eff 358px,#004aff 382px,#006bff 411px,#00faf5 412px,#00fbe5 418px,#00fccd 422px,#00fea3 425px,#00ff32 431px,#00ff11 433px,#08ff09 434px,#4dff04 439px,#7fff00 445px,#a5ff00 454px,#feff00 482px,#ffdd00 494px,#ffd900 504px,#ffdf00 509px,#feff00 516px,#d3ff00 524px,#9aff00 533px,#5cff03 545px,#0fff09 564px,#00ff0e 571px,#00ff52 594px,#00ff87 634px,#00ff96 660px,#00fea3 730px,#00fdbc 822px,#00fdbc 835px)"></i><i style="background:linear-gradient(90deg,#00fcd5 0px,#00fbe6 121px,#00f7ff 170px,#00b2ff 233px,#003eff 329px,#002cff 355px,#0036ff 376px,#0061ff 409px,#00faf5 410px,#00fbee 414px,#00fcd1 419px,#00fdb8 422px,#00ff98 424px,#00ff0f 430px,#2aff07 433px,#7cff00 439px,#a8ff00 445px,#d4ff00 457px,#ffff00 471px,#ffcb00 487px,#ffbe00 495px,#ffc500 506px,#ffd000 510px,#fffe00 518px,#b6ff00 529px,#61ff02 544px,#0fff09 564px,#00ff0e 571px,#00ff52 594px,#00ff87 634px,#00ff96 660px,#00fea3 730px,#00fdbc 822px,#00fdbc 835px)"></i><i style="background:linear-gradient(90deg,#00fcd5 0px,#00fbe6 120px,#00f7ff 168px,#00b8ff 225px,#0029ff 331px,#0018ff 354px,#0024ff 373px,#0056ff 406px,#00faf5 407px,#00fbec 413px,#00fdc7 418px,#00ff9e 422px,#00ff8d 423px,#00ff0a 428px,#2cff07 430px,#a0ff00 438px,#c7ff00 443px,#e9ff00 451px,#ffff00 458px,#ffbf00 476px,#ffa300 490px,#ffa500 499px,#ffba00 509px,#fffb00 519px,#eeff00 522px,#a6ff00 532px,#62ff02 544px,#0fff09 564px,#00ff0e 571px,#00ff52 594px,#00ff87 634px,#00ff96 660px,#00fea3 730px,#00fdbc 822px,#00fdbc 835px)"></i><i style="background:linear-gradient(90deg,#00fcd5 0px,#00fbe6 120px,#00f7ff 167px,#00baff 221px,#0014ff 332px,#0005ff 354px,#0011ff 371px,#0049ff 403px,#00faf5 404px,#00fbed 410px,#00fcdf 413px,#00fea3 419px,#00ff7b 422px,#00ff65 423px,#00ff0e 426px,#48ff04 429px,#6cff02 431px,#ceff00 438px,#edff00 442px,#feff00 445px,#ffba00 462px,#ff9500 475px,#ff8500 490px,#ff8f00 499px,#ffac00 509px,#fff300 519px,#fffd00 520px,#a7ff00 532px,#63ff02 544px,#0fff09 564px,#00ff0e 571px,#00ff52 594px,#00ff87 634px,#00ff96 660px,#00fea3 730px,#00fdbc 822px,#00fdbc 835px)"></i><i style="background:linear-gradient(90deg,#00fcd5 0px,#00fbe6 119px,#00f7ff 166px,#00bdff 217px,#0069ff 269px,#0006ff 329px,#0500ff 338px,#0e00ff 355px,#0003ff 372px,#003cff 400px,#00faf5 401px,#00fbed 407px,#00fcd4 412px,#00ff9f 417px,#00ff55 422px,#00ff3e 423px,#00ff1f 424px,#09ff09 425px,#75ff01 429px,#98ff00 431px,#f9ff00 438px,#fff900 439px,#ffc900 445px,#ff9900 456px,#ff8200 463px,#ff6d00 475px,#ff6e00 491px,#ff8600 502px,#ffa100 509px,#ffee00 519px,#fdff00 521px,#a8ff00 532px,#62ff02 544px,#0fff09 564px,#00ff0c 570px,#00ff52 594px,#00ff87 634px,#00ff96 660px,#00fea3 730px,#00fdbc 822px,#00fdbc 835px)"></i><i style="background:linear-gradient(90deg,#00fcd5 0px,#00fbe6 119px,#00f7ff 165px,#00bfff 214px,#0073ff 260px,#0001ff 322px,#1e00ff 347px,#1c00ff 361px,#0002ff 378px,#002eff 397px,#00faf5 398px,#00fbed 404px,#00fcd5 409px,#00feb4 413px,#00ff7d 417px,#00ff32 422px,#00ff1b 423px,#0fff09 424px,#9bff00 429px,#afff00 430px,#f4ff00 435px,#fffb00 436px,#ffd300 438px,#ffbd00 440px,#ff9400 445px,#ff6f00 454px,#ff5a00 462px,#ff4c00 474px,#ff5c00 491px,#ff8200 504px,#ff9a00 509px,#ffec00 519px,#feff00 521px,#a7ff00 532px,#61ff02 544px,#0eff09 564px,#00ff0c 570px,#00ff52 594px,#00ff87 634px,#00ff96 660px,#00fea3 730px,#00fdbc 822px,#00fdbc 835px)"></i><i style="background:linear-gradient(90deg,#00fcd5 0px,#00fbe6 118px,#00f7ff 165px,#00beff 213px,#0076ff 256px,#0200ff 316px,#2600ff 340px,#2d00ff 355px,#1d00ff 369px,#0002ff 382px,#0023ff 395px,#00faf5 396px,#00fbec 402px,#00fcd3 407px,#00ff9f 413px,#00ff19 422px,#08ff09 423px,#9cff00 428px,#b8ff00 429px,#cdff00 430px,#f8ff00 433px,#fff600 434px,#ffa700 438px,#ff9800 439px,#ff6900 445px,#ff4400 455px,#ff3400 462px,#ff3000 474px,#ff5100 492px,#ff8c00 507px,#ffa800 511px,#fdff00 521px,#a5ff00 532px,#60ff02 544px,#0eff09 564px,#00ff0c 570px,#00ff52 594px,#00ff87 634px,#00ff96 660px,#00fea3 730px,#00fdbc 822px,#00fdbc 835px)"></i><i style="background:linear-gradient(90deg,#00fcd5 0px,#00fbe6 118px,#00f7ff 164px,#00c0ff 211px,#0079ff 253px,#0200ff 312px,#2a00ff 336px,#3600ff 354px,#2a00ff 367px,#0003ff 385px,#0019ff 393px,#00faf5 394px,#00fbed 400px,#00fcd4 405px,#00ff9a 412px,#00ff14 421px,#03ff0a 422px,#18ff08 423px,#b1ff00 428px,#ceff00 429px,#e4ff00 430px,#fffc00 432px,#ffaf00 436px,#ff8200 438px,#ff6d00 440px,#ff4800 445px,#ff2600 454px,#ff1a00 462px,#ff1e00 475px,#ff4e00 493px,#ff9200 508px,#fff000 519px,#fffb00 520px,#eaff00 523px,#a3ff00 532px,#5fff03 544px,#0dff09 564px,#00ff0d 570px,#00ff52 594px,#00ff87 634px,#00ff96 660px,#00fea3 730px,#00fdbc 822px,#00fdbc 835px)"></i><i style="background:linear-gradient(90deg,#00fcd5 0px,#00fbe6 118px,#00f7ff 164px,#00c0ff 211px,#007aff 252px,#0200ff 310px,#2c00ff 334px,#3a00ff 354px,#2e00ff 367px,#0003ff 386px,#0011ff 391px,#00faf5 392px,#00fbee 398px,#00fcd6 403px,#00ff9c 410px,#00ff7a 413px,#00ff1e 419px,#05ff0a 421px,#10ff09 422px,#25ff07 423px,#c1ff00 428px,#dfff00 429px,#f5ff00 430px,#fff800 431px,#ff9600 436px,#ff6b00 438px,#ff5500 440px,#ff2f00 445px,#ff1600 453px,#ff0c00 462px,#ff1700 475px,#ff3200 485px,#ff6000 497px,#ff9600 508px,#ffff00 520px,#a1ff00 532px,#5dff03 544px,#0cff09 564px,#00ff0e 570px,#00ff52 594px,#00ff87 634px,#00ff96 660px,#00fea3 730px,#00fdbc 822px,#00fdbc 835px)"></i><i style="background:linear-gradient(90deg,#00fcd5 0px,#00fbe6 118px,#00f7ff 165px,#00bfff 212px,#0078ff 253px,#0200ff 310px,#2c00ff 334px,#3a00ff 354px,#2e00ff 367px,#0001ff 385px,#000fff 390px,#00faf5 391px,#00fbee 397px,#00fcd5 402px,#00ff9c 409px,#00ff6e 413px,#00ff15 419px,#02ff0a 420px,#17ff08 422px,#2cff07 423px,#caff00 428px,#e8ff00 429px,#ffff00 430px,#ff5e00 438px,#ff4700 440px,#ff2100 445px,#ff0b00 455px,#ff0600 462px,#ff1500 475px,#ff3400 485px,#ff6f00 499px,#ffa400 509px,#fffb00 519px,#eaff00 522px,#9eff00 532px,#5bff03 544px,#0cff09 564px,#00ff0e 570px,#00ff52 594px,#00ff87 634px,#00ff96 660px,#00fea3 730px,#00fdbc 822px,#00fdbc 835px)"></i><i style="background:linear-gradient(90deg,#00fcd5 0px,#00fbe6 118px,#00f7ff 165px,#00bfff 212px,#0078ff 254px,#0100ff 312px,#2a00ff 336px,#3600ff 354px,#2900ff 367px,#0001ff 384px,#0012ff 390px,#00faf5 391px,#00fbec 397px,#00fcd3 402px,#00ff98 409px,#00ff6a 413px,#00ff12 419px,#04ff0a 420px,#19ff08 422px,#2eff06 423px,#ccff00 428px,#eaff00 429px,#fffc00 430px,#ff5b00 438px,#ff4d00 439px,#ff1f00 445px,#ff0a00 455px,#ff0700 462px,#ff1900 475px,#ff5b00 493px,#ffa700 508px,#fcff00 519px,#9aff00 532px,#59ff03 544px,#0bff09 564px,#00ff0c 569px,#00ff52 594px,#00ff87 634px,#00ff96 660px,#00fea3 730px,#00fdbc 822px,#00fdbc 835px)"></i><i style="background:linear-gradient(90deg,#00fcd5 0px,#00fbe5 118px,#00f7ff 166px,#00beff 214px,#0075ff 257px,#0000ff 316px,#2500ff 340px,#2c00ff 355px,#1c00ff 369px,#0003ff 382px,#0015ff 389px,#00faf5 390px,#00fbee 396px,#00fcd7 401px,#00ff9d 408px,#00ff65 413px,#00ff10 419px,#10ff09 421px,#1aff08 422px,#2fff06 423px,#c9ff00 428px,#e6ff00 429px,#fdff00 430px,#ff8d00 436px,#ff6300 438px,#ff4e00 440px,#ff2900 445px,#ff1300 454px,#ff0f00 462px,#ff2000 474px,#ff7a00 497px,#ffba00 509px,#fffb00 517px,#eeff00 520px,#96ff00 532px,#56ff03 544px,#0aff09 564px,#00ff0d 569px,#00ff52 594px,#00ff87 634px,#00ff96 660px,#00fea3 730px,#00fdbc 822px,#00fdbc 835px)"></i><i style="background:linear-gradient(90deg,#00fcd5 0px,#00fbe5 119px,#00f7ff 167px,#00bdff 216px,#0071ff 262px,#0001ff 323px,#1d00ff 348px,#1900ff 362px,#0001ff 377px,#001dff 389px,#00faf5 390px,#00fbed 396px,#00fcd4 401px,#00ff9a 408px,#00ff61 413px,#00ff0f 419px,#10ff09 421px,#19ff08 422px,#2dff06 423px,#c0ff00 428px,#dcff00 429px,#f1ff00 430px,#ffff00 431px,#ffa200 436px,#ff7700 438px,#ff6200 440px,#ff3f00 445px,#ff2400 454px,#ff1f00 462px,#ff3500 474px,#ff8600 496px,#ffc800 509px,#fffe00 516px,#bbff00 526px,#92ff00 532px,#54ff03 544px,#06ff09 565px,#00ff11 570px,#00ff52 594px,#00ff87 634px,#00ff96 660px,#00fea3 730px,#00fdbc 822px,#00fdbc 835px)"></i><i style="background:linear-gradient(90deg,#00fcd5 0px,#00fbe5 119px,#00f7ff 168px,#00bcff 219px,#0068ff 271px,#0007ff 330px,#0400ff 340px,#0c00ff 356px,#0003ff 370px,#0027ff 389px,#00faf5 390px,#00fbed 396px,#00fcd4 401px,#00ff9a 408px,#00ff62 413px,#00ff12 419px,#03ff0a 420px,#16ff08 422px,#28ff07 423px,#b1ff00 428px,#ccff00 429px,#dfff00 430px,#f9ff00 432px,#fff600 433px,#ffad00 437px,#ff9800 438px,#ff8a00 439px,#ff6000 445px,#ff4600 454px,#ff3f00 462px,#ff5100 474px,#ff9200 494px,#ffd800 509px,#fffc00 514px,#d7ff00 521px,#8dff00 532px,#51ff04 544px,#05ff0a 565px,#00ff11 570px,#00ff52 594px,#00ff87 634px,#00ff96 660px,#00fea3 730px,#00fdbc 822px,#00fdbc 835px)"></i><i style="background:linear-gradient(90deg,#00fcd4 0px,#00fbe5 120px,#00f7ff 169px,#00baff 223px,#0017ff 332px,#0008ff 354px,#0014ff 371px,#0034ff 390px,#00faf5 391px,#00fbed 397px,#00fcd4 402px,#00ff99 409px,#00ff6c 413px,#00ff1b 419px,#04ff0a 421px,#0dff09 422px,#1fff08 423px,#b6ff00 429px,#d4ff00 431px,#f7ff00 434px,#fffa00 435px,#ffc400 438px,#ffaf00 440px,#ff8b00 445px,#ff7000 454px,#ff6700 462px,#ff7300 474px,#ffaf00 495px,#ffe900 509px,#fffe00 512px,#ceff00 521px,#88ff00 532px,#4aff04 545px,#04ff0a 565px,#00ff12 570px,#00ff53 595px,#00ff88 635px,#00ff96 661px,#00fea4 731px,#00fdbc 822px,#00fdbc 835px)"></i><i style="background:linear-gradient(90deg,#00fcd4 0px,#00fbe4 121px,#00f7ff 171px,#00b6ff 229px,#002cff 331px,#001cff 354px,#0027ff 373px,#0041ff 391px,#00faf5 392px,#00fbed 398px,#00fcd4 403px,#00ff99 410px,#00ff68 414px,#00ff1b 420px,#04ff0a 422px,#14ff08 423px,#9dff00 429px,#b8ff00 431px,#faff00 437px,#ffe900 439px,#ffc100 445px,#ffa200 455px,#ff9700 462px,#ff9b00 474px,#ffca00 495px,#fdff00 510px,#c5ff00 521px,#82ff00 532px,#47ff04 545px,#03ff0a 565px,#00ff2b 579px,#00ff53 595px,#00ff88 635px,#00ff96 661px,#00fea4 731px,#00fdbc 822px,#00fdbc 835px)"></i><i style="background:linear-gradient(90deg,#00fcd4 0px,#00fbe4 121px,#00f7ff 173px,#00b1ff 237px,#003fff 331px,#002fff 356px,#003bff 377px,#004dff 392px,#00faf5 393px,#00fbee 399px,#00fcd7 404px,#00ff9d 411px,#00ff78 414px,#00ff2a 420px,#00ff14 422px,#06ff0a 423px,#82ff00 429px,#9aff00 431px,#e8ff00 439px,#ffff00 444px,#ffdc00 455px,#ffcd00 463px,#ffca00 475px,#ffe300 494px,#fdff00 505px,#e6ff00 512px,#b6ff00 522px,#78ff01 533px,#44ff05 545px,#02ff0a 565px,#00ff53 595px,#00ff88 635px,#00ff96 661px,#00fea4 731px,#00fdbc 822px,#00fdbc 835px)"></i><i style="background:linear-gradient(90deg,#00fcd4 0px,#00fbe3 122px,#00f7ff 175px,#00a6ff 251px,#0049ff 342px,#0043ff 363px,#0057ff 391px,#005aff 394px,#00faf5 395px,#00fbee 401px,#00fcd6 406px,#00ff9c 413px,#00ff33 421px,#00ff18 423px,#08ff09 424px,#64ff02 429px,#84ff00 432px,#c0ff00 439px,#dcff00 447px,#fbff00 463px,#fff700 478px,#fdff00 495px,#e0ff00 510px,#b1ff00 521px,#73ff01 533px,#3eff05 546px,#01ff0a 565px,#00ff53 595px,#00ff88 635px,#00ff96 661px,#00fea4 731px,#00fdbc 822px,#00fdbc 835px)"></i><i style="background:linear-gradient(90deg,#00fcd4 0px,#00fbe3 123px,#00f7ff 177px,#0085ff 293px,#0054ff 353px,#0058ff 378px,#0066ff 396px,#00faf5 397px,#00fbee 403px,#00fcd6 408px,#00feae 413px,#00ff70 418px,#00ff2e 423px,#04ff0a 425px,#46ff04 429px,#6dff02 433px,#9bff00 439px,#b6ff00 448px,#d9ff00 466px,#e7ff00 479px,#e7ff00 495px,#d1ff00 510px,#a7ff00 521px,#69ff02 534px,#3bff05 546px,#00ff0a 565px,#00ff53 595px,#00ff88 635px,#00ff96 661px,#00fea4 731px,#00fdbc 822px,#00fdbc 835px)"></i><i style="background:linear-gradient(90deg,#00fcd3 0px,#00fbe2 124px,#00f7ff 180px,#0094ff 288px,#0063ff 357px,#0068ff 385px,#0071ff 398px,#00faf5 399px,#00fbee 405px,#00fcd6 410px,#00feab 415px,#00ff6f 420px,#00ff46 423px,#00ff0f 426px,#1aff08 428px,#3eff05 431px,#78ff01 439px,#94ff00 449px,#c6ff00 476px,#d3ff00 494px,#c5ff00 509px,#9dff00 521px,#60ff03 535px,#35ff06 547px,#01ff0a 564px,#00ff53 595px,#00ff88 635px,#00ff96 661px,#00fea4 731px,#00fdbc 822px,#00fdbc 835px)"></i><i style="background:linear-gradient(90deg,#00fcd3 0px,#00fbe2 124px,#00f7ff 182px,#00a1ff 283px,#0070ff 361px,#0076ff 393px,#007aff 400px,#00faf5 401px,#00fbed 407px,#00fcd5 412px,#00ff94 419px,#00ff5f 423px,#00ff0c 428px,#29ff07 432px,#59ff03 439px,#73ff01 449px,#b2ff00 481px,#beff00 496px,#b4ff00 510px,#8fff00 522px,#53ff04 537px,#26ff07 551px,#00ff0b 564px,#00ff55 596px,#00ff88 635px,#00ff96 661px,#00fea4 731px,#00fdbc 822px,#00fdbc 835px)"></i><i style="background:linear-gradient(90deg,#00fcd3 0px,#00fbe1 125px,#00f7ff 185px,#00abff 279px,#007bff 366px,#0081ff 400px,#0082ff 402px,#00faf5 403px,#00fbec 409px,#00fcd1 414px,#00ff8f 421px,#00ff54 425px,#00ff0c 430px,#39ff06 438px,#54ff03 447px,#a4ff00 487px,#acff00 500px,#a4ff00 511px,#86ff00 522px,#39ff06 543px,#00ff0c 564px,#00ff55 596px,#00ff88 635px,#00ff96 661px,#00fea4 731px,#00fdbc 822px,#00fdbc 835px)"></i><i style="background:linear-gradient(90deg,#00fcd3 0px,#00fbe1 126px,#00f7ff 188px,#00b4ff 277px,#0092ff 340px,#0083ff 376px,#0088ff 403px,#00faf5 404px,#00fbee 410px,#00fcd4 415px,#00ff96 422px,#00ff26 430px,#01ff0a 433px,#28ff07 439px,#40ff05 448px,#94ff00 490px,#9cff00 505px,#90ff00 515px,#6cff02 527px,#2bff07 547px,#00ff0b 563px,#00ff55 596px,#00ff88 635px,#00ff96 661px,#00fea4 731px,#00fdbc 822px,#00fdbc 835px)"></i><i style="background:linear-gradient(90deg,#00fcd2 0px,#00fbe0 127px,#00f7ff 191px,#00bcff 274px,#009fff 334px,#008bff 375px,#008fff 405px,#00faf5 406px,#00fbec 412px,#00fcd1 417px,#00ff9b 423px,#00ff3f 430px,#00ff0f 435px,#09ff09 437px,#23ff07 443px,#67ff02 476px,#89ff00 494px,#8eff00 509px,#78ff01 521px,#26ff07 548px,#00ff0d 563px,#00ff55 596px,#00ff88 635px,#00ff96 661px,#00fea4 731px,#00fdbc 822px,#00fdbc 835px)"></i><i style="background:linear-gradient(90deg,#00fcd2 0px,#00fcdf 127px,#00f7ff 194px,#00c2ff 273px,#00a9ff 331px,#0092ff 377px,#0094ff 406px,#00faf5 407px,#00fbee 413px,#00fcd4 418px,#00ffa0 424px,#00ff40 432px,#00ff0c 438px,#1cff08 446px,#53ff04 474px,#7bff00 495px,#82ff00 509px,#6dff02 522px,#19ff08 552px,#00ff0b 562px,#00ff56 597px,#00ff89 636px,#00ff96 662px,#00fea4 733px,#00fdbc 822px,#00fdbc 835px)"></i><i style="background:linear-gradient(90deg,#00fcd2 0px,#00fcdf 128px,#00f7ff 197px,#00c7ff 273px,#00b1ff 329px,#0098ff 380px,#0098ff 408px,#00faf5 409px,#00fbec 415px,#00fcd1 420px,#00ff9c 426px,#00ff40 434px,#00ff17 439px,#03ff0a 442px,#1bff08 451px,#48ff04 475px,#70ff01 496px,#76ff01 510px,#65ff02 522px,#00ff0a 561px,#00ff56 597px,#00ff89 636px,#00ff96 662px,#00fea4 733px,#00fdbc 822px,#00fdbc 835px)"></i><i style="background:linear-gradient(90deg,#00fcd2 0px,#00fcde 128px,#00f7ff 200px,#00cbff 273px,#00b7ff 328px,#009cff 382px,#009dff 410px,#00faf5 411px,#00fbea 417px,#00fcce 422px,#00ff8c 429px,#00ff40 436px,#00ff19 441px,#00ff0a 444px,#18ff08 454px,#46ff05 479px,#67ff02 498px,#6cff02 511px,#5cff03 523px,#00ff0b 561px,#00ff56 597px,#00ff89 636px,#00ff96 662px,#00fea4 733px,#00fdbc 822px,#00fdbc 835px)"></i><i style="background:linear-gradient(90deg,#00fcd1 0px,#00fcdd 129px,#00f7ff 203px,#00cfff 273px,#00bdff 327px,#00a0ff 384px,#00a0ff 411px,#00faf5 412px,#00fbec 418px,#00fcd3 423px,#00ff95 430px,#00ff3f 438px,#00ff15 444px,#02ff0a 447px,#1bff08 460px,#5eff03 498px,#63ff02 512px,#52ff04 525px,#00ff0d 561px,#00ff58 598px,#00ff89 636px,#00ff96 662px,#00fea4 733px,#00fdbc 822px,#00fdbc 835px)"></i><i style="background:linear-gradient(90deg,#00fcd1 0px,#00fcdc 129px,#00f7ff 206px,#00d3ff 274px,#00c2ff 326px,#00a4ff 386px,#00a4ff 413px,#00faf5 414px,#00fbec 420px,#00fcd3 425px,#00ff96 432px,#00ff40 440px,#00ff17 446px,#03ff0a 450px,#56ff03 498px,#5cff03 512px,#4cff04 525px,#00ff0b 560px,#00ff58 598px,#00ff89 636px,#00ff96 662px,#00fea4 733px,#00fdbc 822px,#00fdbc 835px)"></i><i style="background:linear-gradient(90deg,#00fcd1 0px,#00fcdc 129px,#00f7ff 209px,#00d6ff 275px,#00c6ff 326px,#00a7ff 388px,#00a7ff 415px,#00faf5 416px,#00fbec 422px,#00fcd3 427px,#00ff97 434px,#00ff41 442px,#00ff17 448px,#03ff0a 452px,#4aff04 494px,#56ff03 510px,#49ff04 524px,#00ff0d 560px,#00ff5a 599px,#00ff8a 637px,#00ff96 663px,#00fea5 735px,#00fdbc 823px,#00fdbc 835px)"></i><i style="background:linear-gradient(90deg,#00fcd1 0px,#00fcdb 130px,#00f7ff 212px,#00d8ff 276px,#00cbff 325px,#00a9ff 390px,#00a9ff 417px,#00faf5 418px,#00fbec 424px,#00fcd3 429px,#00ff97 436px,#00ff42 444px,#00ff18 450px,#03ff0a 454px,#22ff07 472px,#4bff04 500px,#4fff04 514px,#3cff05 529px,#00ff0c 559px,#00ff5a 599px,#00ff8a 637px,#00ff96 663px,#00fea5 735px,#00fdbc 823px,#00fdbc 835px)"></i><i style="background:linear-gradient(90deg,#00fcd0 0px,#00fcda 130px,#00f7ff 215px,#00dbff 278px,#00ceff 325px,#00acff 391px,#00acff 419px,#00faf5 420px,#00fbeb 426px,#00fccf 431px,#00ff92 438px,#00ff46 445px,#00ff1a 451px,#01ff0a 455px,#1aff08 468px,#47ff04 501px,#49ff04 516px,#31ff06 533px,#00ff0d 559px,#00ff5b 600px,#00ff8a 637px,#00ff96 663px,#00fea5 735px,#00fdbc 823px,#00fdbc 835px)"></i><i style="background:linear-gradient(90deg,#00fcd0 0px,#00fcda 130px,#00f7ff 218px,#00ddff 280px,#00d1ff 325px,#00aeff 392px,#00aeff 420px,#00faf5 421px,#00fbeb 427px,#00fcd0 432px,#00ff92 439px,#00ff47 446px,#00ff1a 452px,#02ff0a 456px,#1aff08 469px,#43ff05 501px,#44ff05 517px,#2bff07 535px,#00ff0c 558px,#00ff5b 600px,#00ff8a 637px,#00ff96 663px,#00fea5 735px,#00fdbc 823px,#00fdbc 835px)"></i><i style="background:linear-gradient(90deg,#00fcd0 0px,#00fcd9 131px,#00f7ff 221px,#00dfff 281px,#00d3ff 325px,#00b0ff 393px,#00b0ff 421px,#00faf5 422px,#00fbeb 428px,#00fcd0 433px,#00ff93 440px,#00ff47 447px,#00ff1a 453px,#02ff0a 457px,#19ff08 469px,#40ff05 501px,#41ff05 517px,#27ff07 536px,#00ff0d 558px,#00ff5d 601px,#00ff8b 638px,#00ff96 664px,#00fea6 737px,#00fdbc 823px,#00fdbc 835px)"></i><i style="background:linear-gradient(90deg,#00fcd0 0px,#00fcd9 131px,#00f7ff 224px,#00e0ff 283px,#00d5ff 326px,#00b2ff 394px,#00b1ff 422px,#00faf5 423px,#00fbeb 429px,#00fcd0 434px,#00ff93 441px,#00ff47 448px,#00ff1a 454px,#02ff0a 458px,#1aff08 470px,#3eff05 501px,#3dff05 518px,#22ff07 538px,#00ff0c 557px,#00ff5e 602px,#00ff8b 638px,#00ff96 664px,#00fea6 737px,#00fdbc 823px,#00fdbc 835px)"></i><i style="background:linear-gradient(90deg,#00fcd0 0px,#00fcd8 131px,#00f7ff 226px,#00e2ff 284px,#00d7ff 326px,#00b3ff 395px,#00b3ff 422px,#00faf5 423px,#00fbec 429px,#00fcd2 434px,#00ff96 441px,#00ff40 449px,#00ff15 455px,#02ff0a 458px,#18ff08 469px,#3bff05 501px,#3bff05 518px,#20ff08 538px,#00ff0d 557px,#00ff5f 603px,#00ff8b 639px,#00ff96 665px,#00fea6 739px,#00fdbc 824px,#00fdbc 835px)"></i><i style="background:linear-gradient(90deg,#00fccf 0px,#00fcd7 131px,#00f7ff 229px,#00e3ff 286px,#00d8ff 327px,#00b5ff 395px,#00b4ff 422px,#00faf5 423px,#00fbec 429px,#00fcd2 434px,#00ff96 441px,#00ff40 449px,#00ff16 455px,#01ff0a 458px,#18ff08 469px,#39ff06 500px,#39ff06 518px,#1eff08 538px,#00ff0c 556px,#00ff61 604px,#00ff8b 639px,#00ff96 665px,#00fea6 739px,#00fdbc 824px,#00fdbc 835px)"></i><i style="background:linear-gradient(90deg,#00fccf 0px,#00fcd7 131px,#00f7ff 231px,#00e5ff 288px,#00d9ff 329px,#00b6ff 396px,#00b5ff 422px,#00faf5 423px,#00fbec 429px,#00fcd3 434px,#00ff97 441px,#00ff41 449px,#00ff16 455px,#01ff0a 458px,#18ff08 469px,#38ff06 500px,#37ff06 518px,#1bff08 539px,#00ff0d 556px,#00ff62 605px,#00ff8c 640px,#00ff96 666px,#00fea7 742px,#00fdbc 825px,#00fdbc 835px)"></i><i style="background:linear-gradient(90deg,#00fccf 0px,#00fcd7 132px,#00f7ff 233px,#00e6ff 289px,#00daff 330px,#00b7ff 396px,#00b6ff 422px,#00faf5 423px,#00fbec 429px,#00fcd3 434px,#00ff97 441px,#00ff41 449px,#00ff16 455px,#01ff0a 458px,#18ff08 469px,#37ff06 500px,#35ff06 519px,#17ff08 541px,#00ff0e 556px,#00ff64 606px,#00ff8d 641px,#00ff96 667px,#00fea8 744px,#00fdbc 825px,#00fdbc 835px)"></i><i style="background:linear-gradient(90deg,#00fccf 0px,#00fcd6 132px,#00f7ff 236px,#00e7ff 291px,#00daff 332px,#00b8ff 397px,#00b7ff 422px,#00faf5 423px,#00fbec 429px,#00fcd3 434px,#00ff98 441px,#00ff42 449px,#00ff17 455px,#01ff0a 458px,#18ff08 469px,#36ff06 499px,#34ff06 518px,#19ff08 539px,#00ff0c 555px,#00ff64 606px,#00ff8d 641px,#00ff96 667px,#00fea8 744px,#00fdbc 825px,#00fdbc 835px)"></i><i style="background:linear-gradient(90deg,#00fcce 0px,#00fcd6 132px,#00f7ff 238px,#00e8ff 293px,#00d9ff 336px,#00b9ff 397px,#00b8ff 422px,#00faf5 423px,#00fbed 429px,#00fcd4 434px,#00ff99 441px,#00ff42 449px,#00ff17 455px,#01ff0a 458px,#17ff08 469px,#36ff06 499px,#33ff06 518px,#17ff08 540px,#00ff0d 555px,#00ff65 607px,#00ff8d 641px,#00ff96 667px,#00fea8 744px,#00fdbc 825px,#00fdbc 835px)"></i><i style="background:linear-gradient(90deg,#00fcce 0px,#00fcd5 132px,#00f7ff 240px,#00e9ff 294px,#00d9ff 337px,#00baff 398px,#00b9ff 422px,#00faf5 423px,#00fbed 429px,#00fcd4 434px,#00ff99 441px,#00ff43 449px,#00ff17 455px,#00ff0a 458px,#17ff08 469px,#35ff06 499px,#32ff06 518px,#16ff08 540px,#00ff0e 555px,#00ff67 608px,#00ff8e 642px,#00ff96 669px,#00feaa 750px,#00fdbc 827px,#00fdbc 835px)"></i><i style="background:linear-gradient(90deg,#00fcce 0px,#00fcd5 132px,#00f7ff 241px,#00eaff 295px,#00d9ff 339px,#00bbff 398px,#00baff 422px,#00faf5 423px,#00fbed 429px,#00fcd5 434px,#00ff9a 441px,#00ff43 449px,#00ff18 455px,#00ff0a 458px,#17ff08 469px,#35ff06 498px,#33ff06 517px,#19ff08 538px,#00ff0c 554px,#00ff68 609px,#00ff8e 642px,#00ff96 669px,#00feaa 750px,#00fdbc 827px,#00fdbc 835px);height:1px"></i></div><div class="p" style="left:127px;top:360px;width:839px;height:337px"><i style="background:linear-gradient(90deg,#00ff13 0px,#00ff16 138px,#00ff75 158px,#00faf9 190px,#00f0ff 191px,#0079ff 198px,#002cff 202px,#0300ff 212px,#1a00ff 218px,#4200ff 232px,#3500ff 242px,#0000ff 247px,#0013ff 249px,#0099ff 256px,#00eeff 260px,#00faf7 261px,#00ff8e 266px,#00ff42 269px,#00ff0e 275px,#03ff0a 276px,#33ff06 277px,#5aff03 280px,#afff00 282px,#dbff00 283px,#f4ff00 284px,#fffa00 285px,#ff9d00 290px,#ff5700 300px,#ff3800 309px,#ff3b00 331px,#ff6800 344px,#fffe00 370px,#97ff00 395px,#51ff04 427px,#2eff06 472px,#20ff08 720px,#1fff08 725px,#05ff0a 726px,#05ff0a 838px)"></i><i style="background:linear-gradient(90deg,#00ff13 0px,#00ff16 136px,#00ff90 162px,#00faf8 187px,#00f1ff 188px,#0076ff 195px,#0027ff 199px,#0200ff 208px,#1b00ff 214px,#4400ff 229px,#3900ff 238px,#1d00ff 241px,#0002ff 244px,#001bff 246px,#00a2ff 253px,#00f8ff 257px,#00ff9a 262px,#00ff4e 265px,#00ff3e 266px,#00ff0a 272px,#07ff09 273px,#3aff05 274px,#54ff03 276px,#6dff01 277px,#c7ff00 279px,#efff00 280px,#fdff00 281px,#ffa100 286px,#ff7300 292px,#ff4f00 298px,#ff3600 306px,#ff3700 327px,#ff6200 340px,#fffd00 367px,#97ff00 392px,#51ff04 424px,#2eff06 469px,#20ff08 716px,#20ff08 725px,#05ff0a 726px,#05ff0a 838px)"></i><i style="background:linear-gradient(90deg,#00ff13 0px,#00ff18 135px,#00ff96 161px,#00faf9 184px,#00f2ff 185px,#0072ff 192px,#0024ff 196px,#0100ff 204px,#1b00ff 210px,#4800ff 225px,#3b00ff 235px,#0500ff 240px,#000fff 242px,#0097ff 249px,#00edff 253px,#00faf8 254px,#00ff8d 259px,#00ff42 262px,#00ff0d 268px,#04ff0a 269px,#35ff06 270px,#5cff03 273px,#dfff00 276px,#f7ff00 277px,#fff600 278px,#ff9900 283px,#ff5300 293px,#ff3300 302px,#ff3600 324px,#ff6100 337px,#fffd00 364px,#9aff00 388px,#51ff04 421px,#2eff06 466px,#20ff07 713px,#20ff08 725px,#05ff0a 726px,#05ff0a 838px)"></i><i style="background:linear-gradient(90deg,#00ff13 0px,#00ff17 133px,#00ff9c 160px,#00faf9 181px,#00f3ff 182px,#006fff 189px,#0031ff 192px,#0021ff 193px,#0001ff 200px,#1f00ff 207px,#4a00ff 222px,#3f00ff 231px,#2300ff 234px,#0300ff 237px,#0007ff 238px,#003cff 241px,#009fff 246px,#00f6ff 250px,#00fcda 252px,#00ff82 256px,#00ff4f 258px,#00ff3e 259px,#00ff0a 265px,#07ff09 266px,#3bff05 267px,#55ff03 269px,#6dff01 270px,#f1ff00 273px,#ffff00 274px,#ff9e00 279px,#ff7d00 283px,#ff4b00 291px,#ff3100 299px,#ff3100 320px,#ff6100 334px,#fffd00 361px,#9aff00 385px,#52ff04 418px,#2eff06 463px,#20ff07 710px,#20ff08 725px,#05ff0a 726px,#05ff0a 838px)"></i><i style="background:linear-gradient(90deg,#00ff13 0px,#00ff16 131px,#00fdba 164px,#00faf9 178px,#00f4ff 179px,#0057ff 187px,#002dff 189px,#001eff 190px,#0200ff 197px,#2200ff 204px,#4d00ff 218px,#4100ff 228px,#0100ff 234px,#0009ff 235px,#0091ff 242px,#00e8ff 246px,#00fafc 247px,#00ff91 252px,#00ff44 255px,#00ff0e 261px,#0aff09 263px,#41ff05 264px,#5bff03 266px,#80ff00 267px,#dbff00 269px,#f7ff00 270px,#fff600 271px,#ff9600 276px,#ff4c00 287px,#ff2f00 296px,#ff3000 317px,#ff6000 331px,#fdff00 359px,#9bff00 382px,#52ff04 415px,#2fff06 460px,#21ff07 706px,#20ff08 725px,#05ff0a 726px,#05ff0a 838px)"></i><i style="background:linear-gradient(90deg,#00ff13 0px,#00ff17 129px,#00fcd1 166px,#00fafa 175px,#00f4ff 176px,#0053ff 184px,#0028ff 186px,#001cff 187px,#0000ff 193px,#2500ff 201px,#4f00ff 215px,#4400ff 224px,#3400ff 226px,#0002ff 231px,#0022ff 233px,#0099ff 239px,#00f0ff 243px,#00fbf4 244px,#00ff87 249px,#00ff53 251px,#00ff40 252px,#00ff0b 258px,#06ff0a 259px,#39ff06 260px,#53ff03 262px,#66ff02 263px,#eeff00 266px,#feff00 267px,#ff9f00 272px,#ff9100 273px,#ff4900 284px,#ff2d00 292px,#ff2f00 314px,#ff5b00 327px,#fdff00 356px,#9bff00 379px,#52ff04 412px,#2fff06 457px,#21ff07 703px,#20ff08 725px,#05ff0a 726px,#05ff0a 838px)"></i><i style="background:linear-gradient(90deg,#00ff13 0px,#00ff17 127px,#00fcda 165px,#00fafa 172px,#00f5ff 173px,#0050ff 181px,#0024ff 183px,#0015ff 185px,#0300ff 190px,#2400ff 197px,#5100ff 211px,#4600ff 221px,#0700ff 227px,#0004ff 228px,#008aff 235px,#00f8ff 240px,#00ff97 245px,#00ff4a 248px,#00ff21 252px,#02ff0a 255px,#09ff09 256px,#3fff05 257px,#59ff03 259px,#77ff01 260px,#d2ff00 262px,#f6ff00 263px,#fff800 264px,#ff9700 269px,#ff6400 276px,#ff4600 281px,#ff2c00 289px,#ff2f00 311px,#ff5a00 324px,#fdff00 353px,#9bff00 376px,#53ff04 409px,#2fff06 454px,#21ff07 700px,#20ff07 725px,#05ff0a 726px,#05ff0a 838px)"></i><i style="background:linear-gradient(90deg,#00ff13 0px,#00ff17 126px,#00fbe2 165px,#00faff 171px,#003bff 180px,#0025ff 181px,#0019ff 182px,#0001ff 187px,#2900ff 196px,#5300ff 209px,#4700ff 219px,#0700ff 225px,#0003ff 226px,#008cff 233px,#00faff 238px,#00ff95 243px,#00ff47 246px,#00ff0f 252px,#0aff09 254px,#40ff05 255px,#5aff03 257px,#7dff00 258px,#d7ff00 260px,#f8ff00 261px,#fff500 262px,#ff9400 267px,#ff4800 278px,#ff2a00 287px,#ff2d00 309px,#ff5900 322px,#feff00 351px,#9cff00 374px,#53ff04 407px,#2fff06 452px,#21ff07 698px,#20ff07 725px,#05ff0a 726px,#05ff0a 838px)"></i><i style="background:linear-gradient(90deg,#00ff13 0px,#00ff18 125px,#00fbe6 164px,#00fafd 169px,#0095ff 174px,#0025ff 179px,#0018ff 180px,#0000ff 185px,#2700ff 193px,#5500ff 207px,#4900ff 217px,#0700ff 223px,#0004ff 224px,#008eff 231px,#00fafd 236px,#00ff92 241px,#00ff44 244px,#00ff0e 250px,#04ff0a 251px,#35ff06 252px,#5cff03 255px,#82ff00 256px,#ddff00 258px,#faff00 259px,#fff200 260px,#ff9100 265px,#ff4600 276px,#ff2900 285px,#ff2c00 307px,#ff5800 320px,#ffff00 349px,#9dff00 372px,#53ff03 405px,#2fff06 451px,#21ff07 696px,#20ff07 725px,#05ff0a 726px,#05ff0a 838px)"></i><i style="background:linear-gradient(90deg,#00ff13 0px,#00ff16 123px,#00fbef 164px,#00fafd 167px,#00ebff 168px,#0025ff 177px,#0017ff 178px,#0100ff 183px,#2900ff 191px,#5700ff 205px,#4900ff 215px,#0700ff 221px,#0005ff 222px,#0090ff 229px,#00e8ff 233px,#00fafb 234px,#00ff8f 239px,#00ff43 242px,#00ff0d 248px,#04ff0a 249px,#37ff06 250px,#5eff03 253px,#e3ff00 256px,#fdff00 257px,#ff8f00 263px,#ff4500 274px,#ff2800 283px,#ff2b00 305px,#ff5700 318px,#fffe00 347px,#9dff00 370px,#54ff03 403px,#2fff06 449px,#21ff07 694px,#20ff07 725px,#05ff0a 726px,#05ff0a 838px)"></i><i style="background:linear-gradient(90deg,#00ff13 0px,#00ff18 123px,#00fbeb 162px,#00fafd 166px,#00d4ff 168px,#0021ff 176px,#0015ff 177px,#0300ff 182px,#2a00ff 190px,#5700ff 204px,#4c00ff 213px,#3b00ff 215px,#0500ff 220px,#000aff 221px,#0080ff 227px,#00eeff 232px,#00faf5 233px,#00ff87 238px,#00ff53 240px,#00ff40 241px,#00ff0b 247px,#07ff09 248px,#3bff05 249px,#55ff03 251px,#68ff02 252px,#f0ff00 255px,#fffc00 256px,#ff9b00 261px,#ff8c00 262px,#ff4300 273px,#ff2700 282px,#ff2800 303px,#ff5800 317px,#ffff00 346px,#9dff00 369px,#54ff03 402px,#30ff06 448px,#21ff07 693px,#20ff07 725px,#05ff0a 726px,#05ff0a 838px)"></i><i style="background:linear-gradient(90deg,#00ff13 0px,#00ff18 123px,#00fbec 162px,#00f8ff 166px,#0018ff 176px,#0000ff 181px,#2c00ff 190px,#5800ff 203px,#4c00ff 213px,#0000ff 220px,#008aff 227px,#00f8ff 232px,#00ff95 237px,#00ff47 240px,#00ff0f 246px,#0aff09 248px,#41ff05 249px,#5bff03 251px,#7eff00 252px,#d9ff00 254px,#faff00 255px,#fff200 256px,#ff9100 261px,#ff4b00 271px,#ff2700 281px,#ff2900 303px,#ff5400 316px,#feff00 346px,#9cff00 369px,#54ff03 402px,#30ff06 447px,#21ff07 692px,#20ff07 725px,#05ff0a 726px,#05ff0a 838px)"></i><i style="background:linear-gradient(90deg,#00ff13 0px,#00ff16 122px,#00ff88 143px,#00fbee 162px,#00fafc 165px,#00f0ff 166px,#0025ff 175px,#0015ff 176px,#0300ff 181px,#2b00ff 189px,#5900ff 203px,#4d00ff 212px,#3d00ff 214px,#0600ff 219px,#0008ff 220px,#007eff 226px,#00edff 231px,#00faf6 232px,#00ff89 237px,#00ff54 239px,#00ff41 240px,#00ff0b 246px,#06ff0a 247px,#3aff05 248px,#66ff02 251px,#eeff00 254px,#fffc00 255px,#ff9b00 260px,#ff8c00 261px,#ff4300 272px,#ff2600 281px,#ff2600 302px,#ff5600 316px,#fffd00 345px,#9eff00 368px,#53ff03 402px,#30ff06 447px,#21ff07 692px,#20ff07 725px,#05ff0a 726px,#05ff0a 838px)"></i><i style="background:linear-gradient(90deg,#00ff13 0px,#00ff16 122px,#00fbeb 161px,#00fafe 165px,#0049ff 173px,#001aff 175px,#0000ff 180px,#2d00ff 189px,#5900ff 202px,#4d00ff 212px,#0100ff 219px,#0088ff 226px,#00f7ff 231px,#00ff96 236px,#00ff48 239px,#00ff0f 245px,#0aff09 247px,#41ff05 248px,#5bff03 250px,#7cff00 251px,#d7ff00 253px,#f9ff00 254px,#fff300 255px,#ff9200 260px,#ff6500 266px,#ff4100 272px,#ff2600 280px,#ff2800 302px,#ff5800 316px,#ffff00 345px,#9dff00 368px,#54ff03 401px,#30ff06 447px,#21ff07 692px,#20ff07 725px,#05ff0a 726px,#05ff0a 838px)"></i><i style="background:linear-gradient(90deg,#00ff13 0px,#00ff17 123px,#00fbed 162px,#00f6ff 166px,#0016ff 176px,#0200ff 181px,#2e00ff 190px,#5900ff 203px,#4b00ff 213px,#0003ff 220px,#008fff 227px,#00fafb 232px,#00ff8f 237px,#00ff43 240px,#00ff0d 246px,#05ff0a 247px,#37ff06 248px,#5fff03 251px,#e4ff00 254px,#feff00 255px,#ff8d00 261px,#ff4300 272px,#ff2600 281px,#ff2900 303px,#ff5400 316px,#fdff00 346px,#9eff00 368px,#54ff03 402px,#30ff06 447px,#21ff07 692px,#20ff07 725px,#05ff0a 726px,#05ff0a 838px)"></i><i style="background:linear-gradient(90deg,#00ff13 0px,#00ff16 123px,#00ff88 144px,#00fbee 163px,#00fafc 166px,#00f0ff 167px,#0025ff 176px,#0015ff 177px,#0300ff 182px,#2b00ff 190px,#5900ff 204px,#4d00ff 213px,#3d00ff 215px,#0700ff 220px,#0008ff 221px,#007dff 227px,#00ecff 232px,#00faf7 233px,#00ff89 238px,#00ff55 240px,#00ff41 241px,#00ff0b 247px,#06ff0a 248px,#3aff05 249px,#66ff02 252px,#eeff00 255px,#fffc00 256px,#ff9b00 261px,#ff8c00 262px,#ff4300 273px,#ff2600 282px,#ff2600 303px,#ff5600 317px,#fffd00 346px,#9eff00 369px,#53ff03 403px,#30ff06 448px,#21ff07 693px,#20ff07 725px,#05ff0a 726px,#05ff0a 838px)"></i><i style="background:linear-gradient(90deg,#00ff13 0px,#00ff16 124px,#00fbeb 163px,#00fafe 167px,#00d3ff 169px,#001fff 177px,#0010ff 179px,#0400ff 183px,#2b00ff 191px,#5800ff 205px,#4c00ff 214px,#2500ff 218px,#0400ff 221px,#000cff 222px,#0083ff 228px,#00f1ff 233px,#00fbf2 234px,#00ff83 239px,#00ff4f 241px,#00ff3f 242px,#01ff0a 248px,#08ff09 249px,#3dff05 250px,#57ff03 252px,#6fff01 253px,#f5ff00 256px,#fff900 257px,#ff9700 262px,#ff8300 264px,#ff4200 274px,#ff2700 282px,#ff2800 304px,#ff5800 318px,#ffff00 347px,#9dff00 370px,#54ff03 403px,#30ff06 449px,#21ff07 694px,#20ff07 725px,#05ff0a 726px,#05ff0a 838px)"></i><i style="background:linear-gradient(90deg,#00ff13 0px,#00ff16 125px,#00fbee 165px,#00fafc 168px,#00f0ff 169px,#0028ff 178px,#0017ff 179px,#0100ff 184px,#2c00ff 193px,#5800ff 206px,#4a00ff 216px,#0800ff 222px,#0004ff 223px,#008fff 230px,#00fafc 235px,#00ff90 240px,#00ff43 243px,#00ff0d 249px,#04ff0a 250px,#37ff06 251px,#5eff03 254px,#e2ff00 257px,#fdff00 258px,#ff8f00 264px,#ff4400 275px,#ff2700 284px,#ff2a00 306px,#ff5600 319px,#fffd00 348px,#9eff00 371px,#53ff04 405px,#30ff06 450px,#21ff07 695px,#20ff07 725px,#05ff0a 726px,#05ff0a 838px)"></i><i style="background:linear-gradient(90deg,#00ff13 0px,#00ff16 127px,#00fbeb 167px,#00fafe 171px,#0036ff 180px,#001fff 181px,#000cff 184px,#0200ff 187px,#2900ff 195px,#5600ff 209px,#4b00ff 218px,#3b00ff 220px,#0400ff 225px,#000aff 226px,#0080ff 232px,#00eeff 237px,#00faf5 238px,#00ff88 243px,#00ff53 245px,#00ff40 246px,#00ff0b 252px,#06ff09 253px,#3aff05 254px,#55ff03 256px,#67ff02 257px,#f0ff00 260px,#fffd00 261px,#ff9b00 266px,#ff8d00 267px,#ff4400 278px,#ff2800 287px,#ff2900 308px,#ff5900 322px,#feff00 351px,#9cff00 374px,#53ff03 407px,#2fff06 453px,#21ff07 698px,#20ff07 725px,#05ff0a 726px,#05ff0a 838px)"></i><i style="background:linear-gradient(90deg,#00ff13 0px,#00ff17 129px,#00fbe9 169px,#00fafc 173px,#00efff 174px,#0042ff 182px,#0019ff 184px,#0001ff 189px,#2a00ff 198px,#5500ff 211px,#4900ff 221px,#0001ff 228px,#0087ff 235px,#00f6ff 240px,#00fdc3 243px,#00ff7f 246px,#00ff4b 248px,#00ff34 250px,#02ff0a 255px,#09ff09 256px,#3eff05 257px,#59ff03 259px,#75ff01 260px,#d0ff00 262px,#f6ff00 263px,#fff700 264px,#ff9600 269px,#ff7600 273px,#ff4400 281px,#ff2900 289px,#ff2b00 311px,#ff5600 324px,#fffd00 353px,#9dff00 376px,#53ff04 410px,#2fff06 455px,#21ff07 700px,#20ff07 725px,#05ff0a 726px,#05ff0a 838px)"></i><i style="background:linear-gradient(90deg,#00ff13 0px,#00ff18 131px,#00fbe3 170px,#00f7ff 176px,#004eff 184px,#0022ff 186px,#0013ff 188px,#0000ff 192px,#2600ff 200px,#5400ff 214px,#4700ff 224px,#0500ff 230px,#0005ff 231px,#008fff 238px,#00fafc 243px,#00ff91 248px,#00ff44 251px,#00ff0e 257px,#04ff0a 258px,#35ff06 259px,#5cff03 262px,#83ff00 263px,#deff00 265px,#faff00 266px,#fff200 267px,#ff9200 272px,#ff4700 283px,#ff2a00 292px,#ff2a00 313px,#ff5a00 327px,#feff00 356px,#9cff00 379px,#53ff04 412px,#2fff06 457px,#21ff07 702px,#20ff07 725px,#05ff0a 726px,#05ff0a 838px)"></i><i style="background:linear-gradient(90deg,#00ff13 0px,#00ff18 133px,#00fcdb 171px,#00fafa 178px,#00f3ff 179px,#004eff 187px,#0022ff 189px,#0010ff 192px,#0300ff 196px,#2400ff 203px,#5100ff 217px,#4500ff 227px,#0600ff 233px,#0005ff 234px,#008cff 241px,#00faff 246px,#00ff95 251px,#00ff48 254px,#00ff0f 260px,#09ff09 262px,#40ff05 263px,#5aff03 265px,#7bff00 266px,#d5ff00 268px,#f7ff00 269px,#fff600 270px,#ff9500 275px,#ff4f00 285px,#ff2c00 295px,#ff2f00 317px,#ff5b00 330px,#fdff00 359px,#9bff00 382px,#53ff04 415px,#2fff06 460px,#21ff07 706px,#20ff07 725px,#05ff0a 726px,#05ff0a 838px)"></i><i style="background:linear-gradient(90deg,#00ff13 0px,#00ff17 135px,#00fcd2 172px,#00fafa 181px,#00f1ff 182px,#0050ff 190px,#0025ff 192px,#0017ff 194px,#0100ff 199px,#2200ff 206px,#4f00ff 221px,#4400ff 230px,#2800ff 233px,#0003ff 237px,#0038ff 240px,#009cff 245px,#00f4ff 249px,#00fbf0 250px,#00ff83 255px,#00ff4f 257px,#00ff3f 258px,#00ff0a 264px,#07ff09 265px,#3bff05 266px,#55ff03 268px,#6dff01 269px,#f2ff00 272px,#fffd00 273px,#ff9c00 278px,#ff8100 281px,#ff4800 290px,#ff2d00 298px,#ff3000 320px,#ff5b00 333px,#fffd00 361px,#9bff00 385px,#52ff04 418px,#2fff06 463px,#21ff07 709px,#20ff07 725px,#05ff0a 726px,#05ff0a 838px)"></i><i style="background:linear-gradient(90deg,#00ff13 0px,#00ff18 137px,#00fdbb 170px,#00fafa 184px,#00efff 185px,#0066ff 192px,#0027ff 195px,#0019ff 197px,#0400ff 203px,#2300ff 210px,#4d00ff 224px,#3e00ff 234px,#0002ff 240px,#000eff 241px,#0097ff 248px,#00eeff 252px,#00faf6 253px,#00ff8b 258px,#00ff41 261px,#00ff0c 267px,#05ff0a 268px,#37ff06 269px,#5fff03 272px,#e6ff00 275px,#fbff00 276px,#ffdd00 278px,#ffa300 281px,#ff9400 282px,#ff4b00 293px,#ff2f00 301px,#ff3100 323px,#ff5c00 336px,#fffe00 364px,#9aff00 388px,#52ff04 421px,#2fff06 466px,#20ff07 712px,#20ff07 725px,#05ff0a 726px,#05ff0a 838px)"></i><i style="background:linear-gradient(90deg,#00ff13 0px,#00ff18 139px,#00ff9d 166px,#00fafa 187px,#00eeff 188px,#006aff 195px,#002cff 198px,#0020ff 199px,#0000ff 206px,#1f00ff 213px,#4a00ff 227px,#3f00ff 237px,#0000ff 243px,#000aff 244px,#008fff 251px,#00fafe 256px,#00ff96 261px,#00ff49 264px,#00ff18 269px,#02ff0a 271px,#09ff09 272px,#3eff05 273px,#58ff03 275px,#78ff01 276px,#d2ff00 278px,#f4ff00 279px,#fffa00 280px,#ff9a00 285px,#ff5400 295px,#ff3100 305px,#ff3200 326px,#ff6200 340px,#fffe00 367px,#9aff00 391px,#52ff04 424px,#2eff06 469px,#20ff07 716px,#20ff08 725px,#05ff0a 726px,#05ff0a 838px)"></i><i style="background:linear-gradient(90deg,#00ff13 0px,#00ff17 141px,#00ff95 167px,#00faf8 190px,#00f5ff 191px,#0076ff 198px,#0025ff 202px,#0000ff 210px,#1e00ff 217px,#4800ff 231px,#3c00ff 241px,#0003ff 247px,#000dff 248px,#0092ff 255px,#00e9ff 259px,#00fafb 260px,#00ff92 265px,#00ff46 268px,#00ff0f 274px,#09ff09 276px,#3fff05 277px,#59ff03 279px,#7cff00 280px,#d6ff00 282px,#f5ff00 283px,#fffa00 284px,#ff9a00 289px,#ff4f00 300px,#ff3300 309px,#ff3500 330px,#ff6000 343px,#fdff00 371px,#98ff00 395px,#52ff04 427px,#2eff06 472px,#20ff07 719px,#20ff08 725px,#05ff0a 726px,#05ff0a 838px)"></i><i style="background:linear-gradient(90deg,#00ff13 0px,#00ff17 143px,#00ff80 165px,#00faf6 193px,#00fafe 194px,#0080ff 201px,#0032ff 205px,#0025ff 206px,#0001ff 214px,#1900ff 220px,#4500ff 235px,#3800ff 245px,#0300ff 250px,#0010ff 252px,#0096ff 259px,#00ecff 263px,#00faf8 264px,#00ff8f 269px,#00ff43 272px,#00ff0e 278px,#0aff09 280px,#40ff05 281px,#5aff03 283px,#81ff00 284px,#dbff00 286px,#f5ff00 287px,#fff900 288px,#ff9b00 293px,#ff5600 303px,#ff3600 312px,#ff3800 334px,#ff6400 347px,#feff00 374px,#98ff00 398px,#51ff04 431px,#2eff06 475px,#20ff08 722px,#20ff08 725px,#05ff0a 726px,#05ff0a 838px)"></i><i style="background:linear-gradient(90deg,#00ff13 0px,#00ff17 145px,#00ff76 165px,#00fafa 197px,#00deff 199px,#0077ff 205px,#002bff 209px,#0001ff 218px,#1d00ff 226px,#4100ff 239px,#3400ff 249px,#0001ff 254px,#0015ff 256px,#009aff 263px,#00f0ff 267px,#00faf5 268px,#00ff8c 273px,#00ff42 276px,#00ff0d 282px,#04ff0a 283px,#34ff06 284px,#5bff03 287px,#dfff00 290px,#f6ff00 291px,#fff800 292px,#ffab00 296px,#ff9c00 297px,#ff5700 307px,#ff3800 316px,#ff3800 337px,#ff6800 351px,#fffe00 377px,#96ff00 402px,#50ff04 434px,#2eff06 479px,#20ff08 725px,#05ff0a 726px,#05ff0a 838px)"></i><i style="background:linear-gradient(90deg,#00ff13 0px,#00ff19 147px,#00ff6d 165px,#00faf9 200px,#00f0ff 201px,#007dff 208px,#0032ff 212px,#0025ff 214px,#0300ff 223px,#1b00ff 230px,#3e00ff 243px,#3300ff 252px,#2300ff 254px,#0400ff 257px,#0010ff 259px,#0030ff 261px,#00a3ff 267px,#00f8ff 271px,#00ff9b 276px,#00ff51 279px,#00ff3f 280px,#00ff0b 286px,#06ff0a 287px,#38ff06 288px,#52ff04 290px,#66ff02 291px,#ebff00 294px,#f9ff00 295px,#fff400 296px,#ffa700 300px,#ff7700 306px,#ff5400 312px,#ff3b00 320px,#ff3d00 341px,#ff6800 354px,#fffe00 380px,#96ff00 405px,#50ff04 437px,#2dff06 482px,#1fff08 725px,#05ff0a 726px,#05ff0a 838px)"></i><i style="background:linear-gradient(90deg,#00ff12 0px,#00ff16 148px,#00ff6a 166px,#00fbf3 202px,#00fafb 203px,#00e0ff 205px,#0081ff 211px,#0038ff 215px,#002cff 216px,#0001ff 226px,#3500ff 244px,#3900ff 247px,#2e00ff 256px,#0004ff 261px,#0017ff 263px,#0098ff 270px,#00edff 274px,#00faf8 275px,#00ff92 280px,#00ff47 283px,#00ff10 289px,#08ff09 291px,#3dff05 292px,#57ff03 294px,#79ff01 295px,#d2ff00 297px,#efff00 298px,#feff00 299px,#ffa300 304px,#ff5d00 314px,#ff3e00 323px,#ff3e00 344px,#ff6e00 358px,#ffff00 383px,#96ff00 408px,#4fff04 441px,#2dff06 485px,#1fff08 725px,#05ff0a 726px,#05ff0a 838px)"></i><i style="background:linear-gradient(90deg,#00ff12 0px,#00ff16 149px,#00ff67 167px,#00fbf2 205px,#00fafc 206px,#0094ff 213px,#003dff 218px,#0030ff 219px,#0001ff 230px,#3600ff 250px,#2800ff 260px,#0001ff 264px,#0020ff 267px,#00a3ff 274px,#00f7ff 278px,#00fdc6 281px,#00ff87 284px,#00ff40 287px,#00ff0d 293px,#04ff0a 294px,#35ff06 295px,#5eff03 298px,#e4ff00 301px,#fffa00 303px,#ffae00 307px,#ff9300 310px,#ff5d00 318px,#ff4100 327px,#ff4300 348px,#ff6f00 361px,#feff00 386px,#95ff00 411px,#4eff04 444px,#2dff07 488px,#1fff08 725px,#05ff0a 726px,#05ff0a 838px)"></i><i style="background:linear-gradient(90deg,#00ff12 0px,#00ff19 151px,#00ff61 167px,#00fbf2 208px,#00fafe 209px,#0086ff 217px,#0033ff 222px,#0001ff 234px,#3200ff 254px,#2700ff 263px,#0100ff 267px,#001bff 270px,#0099ff 277px,#00ecff 281px,#00faf9 282px,#00ff94 287px,#00ff4a 290px,#00ff33 292px,#00ff0a 297px,#07ff09 298px,#3aff05 299px,#53ff03 301px,#70ff01 302px,#c9ff00 304px,#ebff00 305px,#f9ff00 306px,#fff400 307px,#ffa900 311px,#ff6200 321px,#ff4400 330px,#ff4500 351px,#ff7000 364px,#fffb00 388px,#f1ff00 392px,#94ff00 414px,#4eff04 447px,#2cff07 490px,#1fff08 725px,#05ff0a 726px,#05ff0a 838px)"></i><i style="background:linear-gradient(90deg,#00ff12 0px,#00ff18 152px,#00ff60 168px,#00fbf4 211px,#00faff 212px,#0088ff 220px,#0037ff 225px,#0100ff 239px,#2e00ff 257px,#2200ff 267px,#0300ff 270px,#0023ff 274px,#00a4ff 281px,#00f6ff 285px,#00fcdc 287px,#00ff8a 291px,#00ff41 294px,#00ff0e 300px,#03ff0a 301px,#32ff06 302px,#58ff03 305px,#dbff00 308px,#fdff00 310px,#ffb500 314px,#ffa100 316px,#ff6200 325px,#ff4700 334px,#ff4a00 355px,#ff7600 368px,#fffc00 391px,#91ff00 418px,#4dff04 450px,#2cff07 493px,#1fff08 725px,#05ff0a 726px,#05ff0a 838px)"></i><i style="background:linear-gradient(90deg,#00ff12 0px,#00ff18 153px,#00ff5e 169px,#00fbee 213px,#00f8ff 215px,#008aff 223px,#003bff 228px,#0003ff 242px,#2a00ff 261px,#1f00ff 270px,#0f00ff 272px,#0004ff 274px,#0020ff 277px,#0040ff 279px,#00aeff 285px,#00ecff 288px,#00faf9 289px,#00ff97 294px,#00ff4e 297px,#00ff3d 298px,#00ff0b 304px,#06ff0a 305px,#36ff06 306px,#50ff04 308px,#68ff02 309px,#c1ff00 311px,#e5ff00 312px,#fffb00 314px,#ffb000 318px,#ff6800 328px,#ff4a00 337px,#ff4c00 358px,#ff7800 371px,#fffe00 394px,#90ff00 421px,#4cff04 453px,#2bff07 496px,#1eff08 725px,#05ff0a 726px,#05ff0a 838px)"></i><i style="background:linear-gradient(90deg,#00ff12 0px,#00ff18 154px,#00ff5d 170px,#00fbee 216px,#00f6ff 218px,#009bff 225px,#003eff 231px,#0005ff 246px,#0700ff 251px,#2500ff 265px,#1a00ff 274px,#0003ff 277px,#0028ff 281px,#00a5ff 288px,#00f6ff 292px,#00fcdd 294px,#00ff8c 298px,#00ff44 301px,#00ff0f 307px,#08ff09 309px,#3bff05 310px,#55ff03 312px,#7aff00 313px,#d2ff00 315px,#eaff00 316px,#f8ff00 317px,#fff500 318px,#ffbd00 321px,#ffa800 323px,#ff6900 332px,#ff4e00 341px,#ff4e00 361px,#ff7900 374px,#fff900 396px,#fbff00 398px,#8fff00 424px,#4cff04 456px,#2bff07 499px,#1eff08 725px,#05ff0a 726px,#05ff0a 838px)"></i><i style="background:linear-gradient(90deg,#00ff12 0px,#00ff18 154px,#00ff5c 170px,#00fbea 217px,#00faf9 219px,#00f4ff 220px,#009dff 227px,#0043ff 233px,#0009ff 248px,#0400ff 254px,#2100ff 267px,#1300ff 277px,#0001ff 279px,#0030ff 284px,#00aeff 291px,#00ebff 294px,#00fafa 295px,#00ff9a 300px,#00ff3e 304px,#00ff0d 310px,#04ff0a 311px,#33ff06 312px,#4cff04 314px,#5dff03 315px,#dfff00 318px,#fcff00 320px,#ffcb00 323px,#ffb800 324px,#ff6f00 334px,#ff5100 343px,#ff5400 364px,#ff7f00 377px,#ffe400 394px,#feff00 399px,#8fff00 426px,#4bff04 458px,#2bff07 501px,#1eff08 725px,#05ff0a 726px,#05ff0a 838px)"></i><i style="background:linear-gradient(90deg,#00ff12 0px,#00ff17 153px,#00ff5b 169px,#00fbe9 218px,#00faf9 220px,#00f5ff 221px,#00a2ff 228px,#004bff 234px,#003bff 237px,#000eff 249px,#0300ff 257px,#1c00ff 269px,#1200ff 278px,#0300ff 280px,#002bff 285px,#0049ff 287px,#00b5ff 293px,#00f1ff 296px,#00faf5 297px,#00ff95 302px,#00ff4e 305px,#00ff3c 306px,#00ff0c 312px,#05ff0a 313px,#35ff06 314px,#4eff04 316px,#66ff02 317px,#bdff00 319px,#e1ff00 320px,#fdff00 322px,#ffb800 326px,#ff7000 336px,#ff5500 345px,#ff5500 365px,#ff8000 378px,#ffe500 395px,#feff00 400px,#8eff00 427px,#4bff04 459px,#2aff07 502px,#1eff08 725px,#05ff0a 726px,#05ff0a 838px)"></i><i style="background:linear-gradient(90deg,#00ff12 0px,#00ff17 152px,#00ff5a 168px,#00fbe5 218px,#00fbef 220px,#00f6ff 222px,#0098ff 230px,#0047ff 236px,#0011ff 251px,#0400ff 261px,#1700ff 271px,#0d00ff 280px,#0003ff 282px,#0030ff 287px,#00a7ff 294px,#00f7ff 298px,#00fccb 301px,#00ff78 305px,#00ff49 307px,#00ff32 309px,#00ff0a 314px,#06ff0a 315px,#36ff06 316px,#50ff04 318px,#6eff01 319px,#c5ff00 321px,#e2ff00 322px,#feff00 324px,#ffba00 328px,#ff7200 338px,#ff5800 347px,#ff5a00 367px,#ff8000 379px,#ffeb00 397px,#feff00 401px,#8bff00 429px,#4aff04 460px,#2aff07 503px,#1dff08 725px,#05ff0a 726px,#05ff0a 838px)"></i><i style="background:linear-gradient(90deg,#00ff12 0px,#00ff17 151px,#00ff59 167px,#00fbe2 218px,#00fbe8 220px,#00f7ff 223px,#009cff 231px,#004cff 237px,#0015ff 252px,#0200ff 264px,#1200ff 273px,#0800ff 282px,#0000ff 283px,#0035ff 289px,#00adff 296px,#00fafd 300px,#00ff8a 306px,#00ff44 309px,#00ff10 315px,#07ff09 317px,#38ff06 318px,#51ff04 320px,#76ff01 321px,#cdff00 323px,#e3ff00 324px,#ffff00 326px,#ffc700 329px,#ffad00 332px,#ff7500 340px,#ff5c00 348px,#ff5c00 368px,#ff8700 381px,#ffeb00 398px,#fdff00 402px,#8bff00 430px,#49ff04 461px,#29ff07 504px,#1dff08 725px,#05ff0a 726px,#05ff0a 838px)"></i><i style="background:linear-gradient(90deg,#00ff12 0px,#00ff19 149px,#00ff59 165px,#00fdc0 206px,#00fbea 220px,#00fafc 222px,#00caff 227px,#008fff 232px,#004fff 237px,#0019ff 252px,#0300ff 267px,#0e00ff 273px,#0001ff 283px,#0041ff 290px,#00bbff 297px,#00f6ff 300px,#00fbe0 302px,#00ff93 306px,#00ff4d 309px,#00ff3c 310px,#00ff0c 316px,#04ff0a 317px,#33ff06 318px,#4cff04 320px,#63ff02 321px,#baff00 323px,#dcff00 324px,#f8ff00 326px,#fff600 327px,#ffc200 330px,#ff7900 340px,#ff5f00 349px,#ff6200 369px,#ff8a00 381px,#fff400 399px,#ffff00 401px,#89ff00 430px,#49ff04 461px,#29ff07 503px,#1dff08 725px,#05ff0a 726px,#05ff0a 838px)"></i><i style="background:linear-gradient(90deg,#00ff12 0px,#00ff16 146px,#00ff59 163px,#00fdbc 204px,#00fbe5 219px,#00faff 222px,#00a7ff 230px,#0052ff 237px,#001dff 252px,#0200ff 269px,#0900ff 274px,#0001ff 283px,#003eff 290px,#00b6ff 297px,#00f0ff 300px,#00faf7 301px,#00ff85 307px,#00ff40 310px,#00ff0f 316px,#08ff09 318px,#39ff06 319px,#52ff04 321px,#d2ff00 324px,#feff00 327px,#ffc900 330px,#ff7e00 340px,#ff6300 349px,#ff6500 369px,#ff8d00 381px,#fff600 399px,#f9ff00 402px,#88ff00 430px,#48ff04 461px,#28ff07 503px,#1cff08 725px,#05ff0a 726px,#05ff0a 838px)"></i><i style="background:linear-gradient(90deg,#00ff12 0px,#00ff18 144px,#00ff56 160px,#00fdbb 203px,#00fbe8 219px,#00f8ff 222px,#00a7ff 230px,#005dff 236px,#004eff 239px,#0021ff 252px,#0200ff 272px,#0005ff 283px,#0036ff 289px,#004cff 291px,#00c4ff 298px,#00fafc 301px,#00ff8d 307px,#00ff49 310px,#00ff3a 311px,#00ff0b 317px,#05ff0a 318px,#34ff06 319px,#4cff04 321px,#69ff02 322px,#c0ff00 324px,#dbff00 325px,#f6ff00 327px,#fff800 328px,#ffd300 330px,#ffbf00 332px,#ff7f00 341px,#ff6700 349px,#ff6800 369px,#ff9100 381px,#fff900 399px,#fbff00 401px,#86ff00 430px,#48ff04 460px,#28ff07 503px,#1cff08 725px,#05ff0a 726px,#05ff0a 838px)"></i><i style="background:linear-gradient(90deg,#00ff12 0px,#00ff16 146px,#00ff59 163px,#00fdbc 204px,#00fbe5 219px,#00faff 222px,#00a7ff 230px,#005bff 236px,#004eff 238px,#001dff 252px,#0200ff 269px,#0800ff 274px,#0002ff 283px,#003fff 290px,#00b7ff 297px,#00f1ff 300px,#00faf6 301px,#00ff9a 306px,#00ff3f 310px,#00ff0f 316px,#02ff0a 317px,#19ff08 318px,#3aff05 319px,#53ff04 321px,#d4ff00 324px,#ffff00 327px,#ffc800 330px,#ff7e00 340px,#ff6300 349px,#ff6500 369px,#ff8e00 381px,#fff700 399px,#f9ff00 402px,#88ff00 430px,#48ff04 461px,#28ff07 503px,#1cff08 725px,#05ff0a 726px,#05ff0a 838px)"></i><i style="background:linear-gradient(90deg,#00ff12 0px,#00ff16 147px,#00ff59 164px,#00fdc1 205px,#00fbe6 218px,#00fafe 221px,#00a5ff 229px,#0056ff 235px,#004aff 237px,#0019ff 251px,#0300ff 266px,#0e00ff 272px,#0003ff 282px,#0038ff 288px,#00adff 295px,#00fafe 299px,#00ff8d 305px,#00ff48 308px,#00ff31 310px,#00ff0a 315px,#06ff0a 316px,#36ff06 317px,#4fff04 319px,#6eff01 320px,#c5ff00 322px,#dfff00 323px,#fbff00 325px,#ffdf00 327px,#ffc000 329px,#ff7800 339px,#ff5f00 347px,#ff6000 367px,#ff8600 379px,#ffea00 396px,#feff00 400px,#8bff00 428px,#48ff04 460px,#29ff07 502px,#1dff08 725px,#05ff0a 726px,#05ff0a 838px)"></i><i style="background:linear-gradient(90deg,#00ff12 0px,#00ff16 148px,#00ff5a 165px,#00fdc3 205px,#00fbea 218px,#00fafd 220px,#00a4ff 228px,#0052ff 234px,#0046ff 236px,#0016ff 249px,#0300ff 262px,#1300ff 270px,#0500ff 280px,#000dff 282px,#003cff 287px,#00b6ff 294px,#00f2ff 297px,#00faf5 298px,#00ff97 303px,#00ff3d 307px,#00ff0d 313px,#04ff0a 314px,#32ff06 315px,#4bff04 317px,#5eff03 318px,#b5ff00 320px,#dbff00 321px,#f7ff00 323px,#fff700 324px,#ffc000 327px,#ff7700 337px,#ff5c00 346px,#ff5d00 366px,#ff8400 378px,#ffee00 396px,#fffe00 399px,#8cff00 427px,#49ff04 459px,#29ff07 501px,#1dff08 725px,#05ff0a 726px,#05ff0a 838px)"></i><i style="background:linear-gradient(90deg,#00ff12 0px,#00ff18 150px,#00ff5a 166px,#00fbe6 216px,#00fbf2 218px,#00fafb 219px,#00dcff 222px,#00a2ff 227px,#004eff 233px,#003aff 237px,#0012ff 248px,#0200ff 258px,#1700ff 269px,#0d00ff 278px,#0006ff 280px,#0032ff 285px,#00acff 292px,#00fafd 296px,#00ff89 302px,#00ff42 305px,#00ff0f 311px,#08ff09 313px,#3aff05 314px,#53ff04 316px,#a5ff00 318px,#d1ff00 319px,#e6ff00 320px,#fffb00 322px,#ffc300 325px,#ffa200 329px,#ff7100 336px,#ff5800 344px,#ff5b00 365px,#ff8200 377px,#ffec00 395px,#fcff00 399px,#8dff00 426px,#4aff04 458px,#2aff07 500px,#1dff08 725px,#05ff0a 726px,#05ff0a 838px)"></i><i style="background:linear-gradient(90deg,#00ff12 0px,#00ff18 150px,#00ff5c 166px,#00fbea 215px,#00fafc 217px,#00cfff 221px,#0090ff 226px,#0047ff 231px,#000dff 246px,#0300ff 254px,#1c00ff 266px,#1100ff 275px,#0000ff 277px,#002dff 282px,#00a6ff 289px,#00f6ff 293px,#00fcde 295px,#00ff8f 299px,#00ff48 302px,#00ff32 304px,#00ff0a 309px,#07ff09 310px,#38ff06 311px,#51ff04 313px,#71ff01 314px,#c8ff00 316px,#e4ff00 317px,#fffd00 319px,#ffc500 322px,#ffb700 323px,#ff6f00 333px,#ff5500 342px,#ff5600 362px,#ff8100 375px,#ffe600 392px,#fdff00 397px,#8dff00 424px,#4bff04 455px,#2aff07 498px,#1dff08 725px,#05ff0a 726px,#05ff0a 838px)"></i><i style="background:linear-gradient(90deg,#00ff12 0px,#00ff16 149px,#00ff5d 166px,#00fbec 213px,#00fafe 215px,#0097ff 223px,#0040ff 229px,#000aff 243px,#0300ff 249px,#2000ff 263px,#1600ff 272px,#0500ff 274px,#000eff 276px,#0029ff 279px,#00a3ff 286px,#00f4ff 290px,#00fbf3 291px,#00ff91 296px,#00ff49 299px,#00ff32 301px,#00ff0a 306px,#07ff09 307px,#38ff06 308px,#51ff04 310px,#70ff01 311px,#c8ff00 313px,#e5ff00 314px,#fffc00 316px,#ffb400 320px,#ff6c00 330px,#ff5100 339px,#ff5200 359px,#ff7c00 372px,#fff200 392px,#fcff00 395px,#90ff00 421px,#4cff04 453px,#2bff07 496px,#1eff08 725px,#05ff0a 726px,#05ff0a 838px)"></i><i style="background:linear-gradient(90deg,#00ff12 0px,#00ff16 149px,#00ff5c 165px,#00fbed 211px,#00f9ff 213px,#0090ff 221px,#0042ff 226px,#000bff 239px,#0400ff 245px,#2500ff 260px,#1a00ff 269px,#0000ff 272px,#0025ff 276px,#00a0ff 283px,#00f1ff 287px,#00faf5 288px,#00ff92 293px,#00ff4a 296px,#00ff33 298px,#00ff0a 303px,#06ff09 304px,#38ff06 305px,#51ff04 307px,#6fff01 308px,#c7ff00 310px,#e6ff00 311px,#fffa00 313px,#ffb100 317px,#ff6a00 327px,#ff4e00 336px,#ff5100 357px,#ff7800 369px,#fffe00 392px,#90ff00 419px,#4cff04 451px,#2bff07 494px,#1eff08 725px,#05ff0a 726px,#05ff0a 838px)"></i><i style="background:linear-gradient(90deg,#00ff12 0px,#00ff18 149px,#00ff5f 165px,#00fbef 209px,#00f6ff 211px,#0097ff 218px,#003aff 224px,#0002ff 238px,#2900ff 257px,#1f00ff 266px,#0400ff 269px,#0022ff 273px,#008aff 279px,#00efff 284px,#00faf7 285px,#00ff94 290px,#00ff4a 293px,#00ff3c 294px,#00ff0a 300px,#07ff09 301px,#38ff06 302px,#52ff04 304px,#6eff01 305px,#c7ff00 307px,#e7ff00 308px,#f6ff00 309px,#fff800 310px,#ffaf00 314px,#ff6700 324px,#ff4a00 333px,#ff4d00 354px,#ff7800 367px,#fff900 389px,#fbff00 391px,#90ff00 417px,#4dff04 448px,#2bff07 492px,#1eff08 725px,#05ff0a 726px,#05ff0a 838px)"></i><i style="background:linear-gradient(90deg,#00ff12 0px,#00ff16 148px,#00ff62 165px,#00fbf0 207px,#00fafa 208px,#00e4ff 210px,#007fff 217px,#003cff 221px,#0020ff 227px,#0000ff 235px,#2e00ff 254px,#2300ff 263px,#0002ff 267px,#001eff 270px,#009bff 277px,#00eeff 281px,#00faf8 282px,#00ff94 287px,#00ff4a 290px,#00ff33 292px,#00ff0a 297px,#07ff09 298px,#39ff06 299px,#53ff04 301px,#70ff01 302px,#c9ff00 304px,#e9ff00 305px,#f7ff00 306px,#fff600 307px,#ffac00 311px,#ff6500 321px,#ff4700 330px,#ff4900 351px,#ff7400 364px,#ffff00 388px,#92ff00 414px,#4dff04 446px,#2cff07 490px,#1fff08 725px,#05ff0a 726px,#05ff0a 838px)"></i><i style="background:linear-gradient(90deg,#00ff12 0px,#00ff19 148px,#00ff61 164px,#00fbf2 205px,#00fafe 206px,#0086ff 214px,#0033ff 219px,#0001ff 231px,#3200ff 251px,#2700ff 260px,#0100ff 264px,#001bff 267px,#0099ff 274px,#00edff 278px,#00faf8 279px,#00ff94 284px,#00ff4a 287px,#00ff33 289px,#00ff0a 294px,#07ff09 295px,#3aff05 296px,#54ff03 298px,#71ff01 299px,#caff00 301px,#ebff00 302px,#f9ff00 303px,#fff400 304px,#ffa900 308px,#ff6200 318px,#ff4400 327px,#ff4500 348px,#ff7000 361px,#fffb00 385px,#f1ff00 389px,#94ff00 411px,#4eff04 444px,#2cff07 487px,#1fff08 725px,#05ff0a 726px,#05ff0a 838px)"></i><i style="background:linear-gradient(90deg,#00ff12 0px,#00ff17 147px,#00ff65 164px,#00faf5 203px,#00f7ff 204px,#008cff 211px,#0035ff 216px,#0100ff 228px,#3600ff 248px,#2b00ff 257px,#0400ff 261px,#0019ff 264px,#0098ff 271px,#00ecff 275px,#00faf9 276px,#00ff94 281px,#00ff49 284px,#00ff33 286px,#01ff0a 291px,#07ff09 292px,#3bff05 293px,#54ff03 295px,#73ff01 296px,#ccff00 298px,#ecff00 299px,#fbff00 300px,#ffde00 302px,#ffa600 305px,#ff6000 315px,#ff4100 324px,#ff4100 345px,#ff6c00 358px,#fffd00 383px,#94ff00 409px,#4fff04 441px,#2dff07 485px,#1fff08 725px,#05ff0a 726px,#05ff0a 838px)"></i><i style="background:linear-gradient(90deg,#00ff13 0px,#00ff16 145px,#00ff69 163px,#00faf8 200px,#00f2ff 201px,#0084ff 208px,#003bff 212px,#002dff 213px,#0300ff 224px,#3a00ff 244px,#2f00ff 253px,#0002ff 258px,#0015ff 260px,#0094ff 267px,#00e9ff 271px,#00fafb 272px,#00ff96 277px,#00ff4b 280px,#00ff34 282px,#00ff0a 287px,#07ff09 288px,#3aff05 289px,#54ff03 291px,#71ff01 292px,#caff00 294px,#edff00 295px,#fbff00 296px,#ffde00 298px,#ffa400 301px,#ff5e00 311px,#ff3e00 320px,#ff4100 342px,#ff6d00 355px,#fffe00 380px,#96ff00 405px,#4fff04 438px,#2dff06 482px,#1fff08 725px,#05ff0a 726px,#05ff0a 838px)"></i><i style="background:linear-gradient(90deg,#00ff13 0px,#00ff16 143px,#00ff6f 162px,#00faf5 196px,#00f8ff 197px,#0073ff 205px,#002bff 209px,#0100ff 219px,#1a00ff 226px,#3e00ff 239px,#3200ff 249px,#0002ff 254px,#0015ff 256px,#0099ff 263px,#00eeff 267px,#00faf7 268px,#00ff90 273px,#00ff44 276px,#00ff0f 282px,#09ff09 284px,#3fff05 285px,#58ff03 287px,#7eff00 288px,#d7ff00 290px,#f2ff00 291px,#fffd00 292px,#ffa000 297px,#ff5a00 307px,#ff3b00 316px,#ff3b00 337px,#ff6b00 351px,#fdff00 377px,#97ff00 401px,#50ff04 434px,#2dff06 478px,#1fff08 725px,#05ff0a 726px,#05ff0a 838px)"></i><i style="background:linear-gradient(90deg,#00ff13 0px,#00ff17 141px,#00ff76 161px,#00fafb 193px,#00ccff 196px,#0063ff 202px,#0029ff 205px,#0001ff 214px,#1a00ff 221px,#4100ff 235px,#3300ff 245px,#0001ff 250px,#0016ff 252px,#009cff 259px,#00f2ff 263px,#00fbf4 264px,#00ff8a 269px,#00ff41 272px,#00ff0d 278px,#04ff0a 279px,#35ff06 280px,#5cff03 283px,#e3ff00 286px,#f7ff00 287px,#fff700 288px,#ffaa00 292px,#ff9c00 293px,#ff5600 303px,#ff3800 312px,#ff3900 333px,#ff6800 347px,#ffff00 373px,#96ff00 398px,#50ff04 430px,#2eff06 475px,#20ff08 722px,#1fff08 725px,#05ff0a 726px,#05ff0a 838px)"></i><i style="background:linear-gradient(90deg,#00ff13 0px,#00ff18 139px,#00ff82 161px,#00faf7 189px,#00f6ff 190px,#0067ff 198px,#002cff 201px,#001bff 204px,#0100ff 210px,#1a00ff 216px,#4500ff 231px,#3600ff 241px,#0000ff 246px,#0015ff 248px,#009cff 255px,#00f2ff 259px,#00fbf3 260px,#00ff88 265px,#00ff55 267px,#00ff40 268px,#00ff0c 274px,#05ff0a 275px,#37ff06 276px,#60ff02 279px,#e7ff00 282px,#f9ff00 283px,#fff300 284px,#ffa600 288px,#ff9100 290px,#ff5000 300px,#ff3600 308px,#ff3600 329px,#ff6500 343px,#fdff00 370px,#98ff00 394px,#50ff04 427px,#2eff06 471px,#20ff08 718px,#20ff08 725px,#05ff0a 726px,#05ff0a 838px)"></i><i style="background:linear-gradient(90deg,#00ff13 0px,#00ff16 136px,#00ff97 163px,#00fafb 186px,#00c9ff 189px,#0058ff 195px,#0030ff 197px,#0022ff 198px,#0200ff 206px,#1c00ff 212px,#4700ff 227px,#3c00ff 236px,#2d00ff 238px,#0200ff 242px,#0015ff 244px,#009dff 251px,#00f3ff 255px,#00fbf2 256px,#00ff86 261px,#00ff53 263px,#00ff40 264px,#00ff0b 270px,#06ff0a 271px,#38ff06 272px,#52ff04 274px,#65ff02 275px,#ecff00 278px,#fbff00 279px,#ffdd00 281px,#ffa300 284px,#ff8f00 286px,#ff4e00 296px,#ff3300 304px,#ff3300 325px,#ff6300 339px,#ffff00 366px,#99ff00 390px,#51ff04 423px,#2eff06 468px,#20ff07 715px,#20ff08 725px,#05ff0a 726px,#05ff0a 838px)"></i><i style="background:linear-gradient(90deg,#00ff13 0px,#00ff17 134px,#00ff9b 161px,#00faf9 182px,#00f4ff 183px,#0070ff 190px,#0021ff 194px,#0001ff 201px,#1e00ff 208px,#4a00ff 223px,#3f00ff 232px,#2f00ff 234px,#0400ff 238px,#0006ff 239px,#0027ff 241px,#009dff 247px,#00f4ff 251px,#00fbf1 252px,#00ff84 257px,#00ff51 259px,#00ff3f 260px,#00ff0b 266px,#06ff09 267px,#3aff05 268px,#54ff03 270px,#69ff02 271px,#efff00 274px,#feff00 275px,#ffa000 280px,#ff8400 283px,#ff4c00 292px,#ff3100 300px,#ff3400 322px,#ff6000 335px,#fdff00 363px,#9aff00 386px,#52ff04 419px,#2eff06 464px,#20ff07 711px,#20ff08 725px,#05ff0a 726px,#05ff0a 838px)"></i><i style="background:linear-gradient(90deg,#00ff13 0px,#00ff17 132px,#00fdba 165px,#00fafa 179px,#00f2ff 180px,#006aff 187px,#002bff 190px,#001eff 191px,#0300ff 198px,#2200ff 205px,#4d00ff 219px,#4000ff 229px,#0000ff 235px,#000bff 236px,#0093ff 243px,#00eaff 247px,#00fafa 248px,#00ff8f 253px,#00ff43 256px,#00ff0e 262px,#04ff0a 263px,#35ff06 264px,#5cff03 267px,#b2ff00 269px,#dfff00 270px,#f9ff00 271px,#fff400 272px,#ff9500 277px,#ff4b00 288px,#ff2f00 297px,#ff3100 318px,#ff6100 332px,#fffd00 359px,#9aff00 383px,#52ff04 416px,#2fff06 461px,#21ff07 707px,#20ff08 725px,#05ff0a 726px,#05ff0a 838px)"></i><i style="background:linear-gradient(90deg,#00ff13 0px,#00ff16 130px,#00fcd1 167px,#00faf9 176px,#00f5ff 177px,#0054ff 185px,#0029ff 187px,#001cff 188px,#0000ff 194px,#2500ff 202px,#4f00ff 216px,#3f00ff 226px,#0001ff 232px,#000eff 233px,#0098ff 240px,#00efff 244px,#00fbf4 245px,#00ff88 250px,#00ff54 252px,#00ff40 253px,#00ff0b 259px,#06ff0a 260px,#39ff06 261px,#64ff02 264px,#ecff00 267px,#feff00 268px,#ffa000 273px,#ff9200 274px,#ff4900 285px,#ff2d00 293px,#ff2f00 315px,#ff5a00 328px,#fdff00 357px,#9bff00 380px,#52ff04 413px,#2fff06 458px,#21ff07 704px,#20ff07 725px,#05ff0a 726px,#05ff0a 838px)"></i><i style="background:linear-gradient(90deg,#00ff13 0px,#00ff16 128px,#00fcda 166px,#00f8ff 174px,#0053ff 182px,#0027ff 184px,#001aff 185px,#0200ff 191px,#2700ff 199px,#5100ff 213px,#4600ff 222px,#0002ff 229px,#0072ff 235px,#00f5ff 241px,#00fcda 243px,#00ff81 247px,#00ff4d 249px,#00ff3e 250px,#01ff0a 256px,#08ff09 257px,#3dff05 258px,#57ff03 260px,#71ff01 261px,#cbff00 263px,#f4ff00 264px,#fffb00 265px,#ff9a00 270px,#ff7f00 273px,#ff4600 282px,#ff2c00 290px,#ff2e00 312px,#ff5a00 325px,#feff00 354px,#9cff00 377px,#53ff04 410px,#2fff06 455px,#21ff07 700px,#20ff07 725px,#05ff0a 726px,#05ff0a 838px)"></i><i style="background:linear-gradient(90deg,#00ff13 0px,#00ff17 126px,#00fbe2 165px,#00faff 171px,#0052ff 179px,#0026ff 181px,#0019ff 182px,#0001ff 187px,#2900ff 196px,#5300ff 209px,#4700ff 219px,#0003ff 226px,#008bff 233px,#00f9ff 238px,#00ff96 243px,#00ff48 246px,#00ff0f 252px,#09ff09 254px,#40ff05 255px,#5aff03 257px,#7bff00 258px,#d6ff00 260px,#f8ff00 261px,#fff500 262px,#ff9400 267px,#ff4e00 277px,#ff2a00 287px,#ff2d00 309px,#ff5900 322px,#feff00 351px,#9cff00 374px,#53ff04 407px,#2fff06 452px,#21ff07 698px,#20ff07 725px,#05ff0a 726px,#05ff0a 838px)"></i><i style="background:linear-gradient(90deg,#00ff13 0px,#00ff16 125px,#00fbe9 165px,#00fafc 169px,#00f0ff 170px,#001aff 180px,#0300ff 186px,#2900ff 194px,#5500ff 208px,#4900ff 217px,#0000ff 224px,#0070ff 230px,#00f4ff 236px,#00fbf0 237px,#00ff9a 241px,#00ff4d 244px,#00ff35 246px,#01ff0a 251px,#08ff09 252px,#3dff05 253px,#58ff03 255px,#72ff01 256px,#cdff00 258px,#f5ff00 259px,#fff900 260px,#ff9800 265px,#ff7d00 268px,#ff4400 277px,#ff2900 285px,#ff2b00 307px,#ff5600 320px,#fffd00 349px,#9bff00 373px,#53ff04 406px,#2fff06 451px,#21ff07 696px,#20ff07 725px,#05ff0a 726px,#05ff0a 838px)"></i><i style="background:linear-gradient(90deg,#00ff13 0px,#00ff16 124px,#00fbec 164px,#00faff 168px,#0035ff 177px,#001eff 178px,#0007ff 182px,#0800ff 185px,#2a00ff 192px,#5600ff 206px,#4b00ff 215px,#3a00ff 217px,#0400ff 222px,#000bff 223px,#0080ff 229px,#00efff 234px,#00faf5 235px,#00ff87 240px,#00ff53 242px,#00ff40 243px,#00ff0a 249px,#07ff09 250px,#3bff05 251px,#55ff03 253px,#69ff02 254px,#f1ff00 257px,#fffc00 258px,#ff9b00 263px,#ff8d00 264px,#ff4400 275px,#ff2800 284px,#ff2900 305px,#ff5900 319px,#feff00 348px,#9cff00 371px,#53ff03 404px,#2fff06 449px,#21ff07 694px,#20ff07 725px,#05ff0a 726px,#05ff0a 838px)"></i><i style="background:linear-gradient(90deg,#00ff13 0px,#00ff17 123px,#00fbea 162px,#00fafd 166px,#00eeff 167px,#0025ff 176px,#0016ff 177px,#0200ff 182px,#2a00ff 190px,#5800ff 204px,#4800ff 214px,#0700ff 220px,#0006ff 221px,#0091ff 228px,#00eaff 232px,#00faf9 233px,#00ff8c 238px,#00ff42 241px,#00ff0c 247px,#05ff0a 248px,#38ff06 249px,#60ff03 252px,#e8ff00 255px,#feff00 256px,#ff8e00 262px,#ff4400 273px,#ff2700 282px,#ff2700 303px,#ff5700 317px,#fffe00 346px,#9dff00 369px,#54ff03 402px,#30ff06 448px,#21ff07 693px,#20ff07 725px,#05ff0a 726px,#05ff0a 838px)"></i><i style="background:linear-gradient(90deg,#00ff13 0px,#00ff16 122px,#00fbee 162px,#00fafc 165px,#00f0ff 166px,#0026ff 175px,#0016ff 176px,#0200ff 181px,#2a00ff 189px,#5800ff 203px,#4900ff 213px,#0700ff 219px,#0006ff 220px,#0092ff 227px,#00ebff 231px,#00faf8 232px,#00ff8b 237px,#00ff57 239px,#00ff42 240px,#00ff0c 246px,#06ff0a 247px,#39ff06 248px,#61ff02 251px,#eaff00 254px,#fffe00 255px,#ff8d00 261px,#ff4300 272px,#ff2700 281px,#ff2700 302px,#ff5600 316px,#fffd00 345px,#9eff00 368px,#53ff03 402px,#30ff06 447px,#21ff07 692px,#20ff07 725px,#05ff0a 726px,#05ff0a 838px)"></i><i style="background:linear-gradient(90deg,#00ff13 0px,#00ff16 122px,#00ff8e 144px,#00fbef 162px,#00fafd 165px,#00eeff 166px,#0022ff 175px,#0015ff 176px,#0400ff 181px,#2b00ff 189px,#5900ff 203px,#4d00ff 212px,#3c00ff 214px,#0500ff 219px,#000aff 220px,#0080ff 226px,#00efff 231px,#00fbf4 232px,#00ff86 237px,#00ff52 239px,#00ff40 240px,#00ff0a 246px,#07ff09 247px,#3cff05 248px,#56ff03 250px,#6bff02 251px,#f3ff00 254px,#fffa00 255px,#ff9900 260px,#ff8b00 261px,#ff4200 272px,#ff2600 281px,#ff2700 302px,#ff5600 316px,#fffd00 345px,#9dff00 368px,#54ff03 401px,#30ff06 447px,#21ff07 692px,#20ff07 725px,#05ff0a 726px,#05ff0a 838px)"></i><i style="background:linear-gradient(90deg,#00ff13 0px,#00ff16 122px,#00ff8e 144px,#00fbef 162px,#00fafe 165px,#00ebff 166px,#001eff 175px,#000fff 177px,#0001ff 180px,#2c00ff 189px,#5900ff 202px,#4d00ff 212px,#0300ff 219px,#000dff 220px,#0084ff 226px,#00f3ff 231px,#00fbf0 232px,#00ff9a 236px,#00ff4d 239px,#00ff35 241px,#01ff0a 246px,#08ff09 247px,#3eff05 248px,#58ff03 250px,#74ff01 251px,#cfff00 253px,#f7ff00 254px,#fff600 255px,#ff9500 260px,#ff8100 262px,#ff4100 272px,#ff2600 280px,#ff2700 302px,#ff5700 316px,#fffe00 345px,#9dff00 368px,#54ff03 401px,#30ff06 447px,#21ff07 692px,#20ff07 725px,#05ff0a 726px,#05ff0a 838px)"></i><i style="background:linear-gradient(90deg,#00ff13 0px,#00ff16 122px,#00fbeb 161px,#00fafe 165px,#0048ff 173px,#001aff 175px,#0000ff 180px,#2d00ff 189px,#5900ff 202px,#4d00ff 212px,#0100ff 219px,#0089ff 226px,#00f8ff 231px,#00ff96 236px,#00ff47 239px,#00ff0f 245px,#0aff09 247px,#41ff05 248px,#5bff03 250px,#7dff00 251px,#d8ff00 253px,#faff00 254px,#fff300 255px,#ff9100 260px,#ff5f00 267px,#ff4100 272px,#ff2600 280px,#ff2800 302px,#ff5800 316px,#ffff00 345px,#9dff00 368px,#54ff03 401px,#30ff06 447px,#21ff07 692px,#20ff07 725px,#05ff0a 726px,#05ff0a 838px)"></i><i style="background:linear-gradient(90deg,#00ff13 0px,#00ff16 123px,#00fbec 162px,#00faff 166px,#0031ff 175px,#0019ff 176px,#0000ff 181px,#2d00ff 190px,#5900ff 203px,#4d00ff 213px,#0100ff 220px,#0089ff 227px,#00f7ff 232px,#00ff96 237px,#00ff47 240px,#00ff0f 246px,#0aff09 248px,#41ff05 249px,#5bff03 251px,#7cff00 252px,#d7ff00 254px,#faff00 255px,#fff300 256px,#ff9100 261px,#ff5f00 268px,#ff4100 273px,#ff2600 281px,#ff2800 303px,#ff5900 317px,#ffff00 346px,#9dff00 369px,#54ff03 402px,#30ff06 448px,#21ff07 693px,#20ff07 725px,#05ff0a 726px,#05ff0a 838px)"></i><i style="background:linear-gradient(90deg,#00ff13 0px,#00ff17 124px,#00fbec 163px,#00faff 167px,#0032ff 176px,#001bff 177px,#0000ff 182px,#2c00ff 191px,#5800ff 204px,#4c00ff 214px,#0200ff 221px,#0071ff 227px,#00f6ff 233px,#00fdc3 236px,#00ff7e 239px,#00ff4a 241px,#00ff18 246px,#02ff0a 248px,#09ff09 249px,#3fff05 250px,#5aff03 252px,#78ff01 253px,#d3ff00 255px,#f8ff00 256px,#fff500 257px,#ff9400 262px,#ff7400 266px,#ff4200 274px,#ff2700 282px,#ff2800 304px,#ff5900 318px,#feff00 347px,#9dff00 370px,#54ff03 403px,#30ff06 449px,#21ff07 693px,#20ff07 725px,#05ff0a 726px,#05ff0a 838px)"></i><i style="background:linear-gradient(90deg,#00ff13 0px,#00ff16 124px,#00fbec 164px,#00faff 168px,#001bff 178px,#0001ff 183px,#2b00ff 192px,#5700ff 206px,#4c00ff 215px,#0200ff 222px,#0022ff 224px,#0085ff 229px,#00f4ff 234px,#00fbf0 235px,#00ff9a 239px,#00ff4c 242px,#00ff34 244px,#01ff0a 249px,#08ff09 250px,#3eff05 251px,#58ff03 253px,#74ff01 254px,#cfff00 256px,#f6ff00 257px,#fff700 258px,#ff9600 263px,#ff7b00 266px,#ff4200 275px,#ff2700 283px,#ff2900 305px,#ff5900 319px,#feff00 348px,#9cff00 371px,#54ff03 404px,#30ff06 449px,#21ff07 694px,#20ff07 725px,#05ff0a 726px,#05ff0a 838px)"></i><i style="background:linear-gradient(90deg,#00ff13 0px,#00ff16 125px,#00fbee 166px,#00fafc 169px,#00eeff 170px,#0028ff 179px,#0018ff 180px,#0000ff 185px,#2b00ff 194px,#5700ff 207px,#4a00ff 217px,#0002ff 224px,#008dff 231px,#00fafe 236px,#00ff92 241px,#00ff44 244px,#00ff0e 250px,#04ff0a 251px,#35ff06 252px,#5cff03 255px,#82ff00 256px,#ddff00 258px,#fbff00 259px,#ffde00 261px,#ff9000 265px,#ff4500 276px,#ff2800 285px,#ff2b00 307px,#ff5600 320px,#fffd00 349px,#9dff00 372px,#53ff04 406px,#2fff06 451px,#21ff07 696px,#20ff07 725px,#05ff0a 726px,#05ff0a 838px)"></i><i style="background:linear-gradient(90deg,#00ff13 0px,#00ff16 127px,#00fbec 168px,#00f7ff 172px,#0035ff 181px,#001fff 182px,#0003ff 187px,#1700ff 192px,#3900ff 201px,#5500ff 210px,#4500ff 220px,#0400ff 226px,#0009ff 227px,#0094ff 234px,#00edff 238px,#00faf7 239px,#00ff8a 244px,#00ff56 246px,#00ff41 247px,#00ff0b 253px,#06ff0a 254px,#39ff06 255px,#63ff02 258px,#ebff00 261px,#ffff00 262px,#ff9e00 267px,#ff8e00 268px,#ff4500 279px,#ff2900 288px,#ff2a00 309px,#ff5a00 323px,#feff00 352px,#9cff00 375px,#53ff04 408px,#2fff06 453px,#21ff07 699px,#20ff07 725px,#05ff0a 726px,#05ff0a 838px)"></i><i style="background:linear-gradient(90deg,#00ff13 0px,#00ff16 129px,#00fbe1 168px,#00fafc 174px,#00d6ff 176px,#002bff 184px,#001aff 185px,#0300ff 191px,#2800ff 199px,#5300ff 213px,#4800ff 222px,#0001ff 229px,#0071ff 235px,#00f4ff 241px,#00fbf0 242px,#00ff82 247px,#00ff4e 249px,#00ff3e 250px,#01ff0a 256px,#08ff09 257px,#3dff05 258px,#57ff03 260px,#71ff01 261px,#ccff00 263px,#f4ff00 264px,#fffa00 265px,#ff9900 270px,#ff7e00 273px,#ff4500 282px,#ff2a00 290px,#ff2c00 312px,#ff5800 325px,#ffff00 354px,#9dff00 377px,#53ff03 410px,#2fff06 456px,#21ff07 702px,#20ff07 725px,#05ff0a 726px,#05ff0a 838px)"></i><i style="background:linear-gradient(90deg,#00ff13 0px,#00ff18 131px,#00fcdb 169px,#00fafb 176px,#00f2ff 177px,#004cff 185px,#0020ff 187px,#0001ff 193px,#2800ff 202px,#5200ff 215px,#4500ff 225px,#0500ff 231px,#0005ff 232px,#008eff 239px,#00fafe 244px,#00ff93 249px,#00ff45 252px,#00ff0e 258px,#0aff09 260px,#41ff05 261px,#5bff03 263px,#7fff00 264px,#d9ff00 266px,#f8ff00 267px,#fff500 268px,#ff9400 273px,#ff4900 284px,#ff2c00 293px,#ff2c00 314px,#ff5b00 328px,#fffd00 356px,#9bff00 380px,#53ff04 413px,#2fff06 458px,#21ff07 704px,#20ff07 725px,#05ff0a 726px,#05ff0a 838px)"></i><i style="background:linear-gradient(90deg,#00ff13 0px,#00ff17 133px,#00fcd2 170px,#00fafa 179px,#00f2ff 180px,#0050ff 188px,#0025ff 190px,#0017ff 192px,#0100ff 197px,#2200ff 204px,#4f00ff 219px,#4400ff 228px,#2800ff 231px,#0003ff 235px,#0038ff 238px,#009cff 243px,#00f3ff 247px,#00fbf1 248px,#00ff84 253px,#00ff50 255px,#00ff3f 256px,#00ff0a 262px,#07ff09 263px,#3bff05 264px,#55ff03 266px,#6cff02 267px,#f2ff00 270px,#fffd00 271px,#ff9d00 276px,#ff8100 279px,#ff4800 288px,#ff2d00 296px,#ff3000 318px,#ff5b00 331px,#fffd00 359px,#9bff00 383px,#52ff04 416px,#2fff06 461px,#21ff07 707px,#20ff07 725px,#05ff0a 726px,#05ff0a 838px)"></i><i style="background:linear-gradient(90deg,#00ff13 0px,#00ff16 135px,#00fdba 168px,#00faf9 182px,#00f5ff 183px,#0058ff 191px,#002eff 193px,#001fff 194px,#0200ff 201px,#2200ff 208px,#4d00ff 222px,#4100ff 232px,#0100ff 238px,#0009ff 239px,#0090ff 246px,#00fafc 251px,#00ff92 256px,#00ff45 259px,#00ff0e 265px,#0aff09 267px,#40ff05 268px,#5aff03 270px,#7fff00 271px,#d9ff00 273px,#f7ff00 274px,#fff600 275px,#ff9600 280px,#ff4c00 291px,#ff2f00 300px,#ff3000 321px,#ff6000 335px,#fdff00 363px,#9bff00 386px,#52ff04 419px,#2fff06 464px,#21ff07 710px,#20ff07 725px,#05ff0a 726px,#05ff0a 838px)"></i><i style="background:linear-gradient(90deg,#00ff13 0px,#00ff16 137px,#00ff9b 164px,#00faf8 185px,#00f6ff 186px,#005eff 194px,#0022ff 197px,#0300ff 205px,#1e00ff 211px,#4a00ff 226px,#3b00ff 236px,#0500ff 241px,#0005ff 242px,#0025ff 244px,#009bff 250px,#00f1ff 254px,#00fbf3 255px,#00ff87 260px,#00ff54 262px,#00ff40 263px,#00ff0b 269px,#06ff0a 270px,#38ff06 271px,#52ff04 273px,#64ff02 274px,#ebff00 277px,#fcff00 278px,#ffb600 282px,#ff9500 284px,#ff4c00 295px,#ff3100 303px,#ff3400 325px,#ff6000 338px,#fdff00 366px,#9bff00 389px,#52ff04 422px,#2eff06 467px,#20ff07 713px,#20ff08 725px,#05ff0a 726px,#05ff0a 838px)"></i><i style="background:linear-gradient(90deg,#00ff13 0px,#00ff16 139px,#00ff94 165px,#00faf7 188px,#00f9ff 189px,#0065ff 197px,#0029ff 200px,#000aff 206px,#0400ff 209px,#1d00ff 215px,#4700ff 230px,#3c00ff 239px,#0001ff 245px,#000bff 246px,#008eff 253px,#00faff 258px,#00ff97 263px,#00ff4b 266px,#00ff34 268px,#01ff0a 273px,#08ff09 274px,#3cff05 275px,#56ff03 277px,#73ff01 278px,#cdff00 280px,#f2ff00 281px,#fffd00 282px,#ff9d00 287px,#ff6300 295px,#ff4d00 299px,#ff3300 307px,#ff3400 328px,#ff6500 342px,#feff00 369px,#98ff00 393px,#51ff04 426px,#2eff06 470px,#20ff07 717px,#20ff08 725px,#05ff0a 726px,#05ff0a 838px)"></i><i style="background:linear-gradient(90deg,#00ff13 0px,#00ff16 141px,#00ff7f 163px,#00fafb 192px,#00cbff 195px,#0071ff 200px,#0026ff 204px,#0300ff 213px,#1b00ff 219px,#4400ff 233px,#3900ff 243px,#0600ff 248px,#000eff 250px,#0092ff 257px,#00fafc 262px,#00ff94 267px,#00ff48 270px,#00ff18 275px,#02ff0a 277px,#09ff09 278px,#3dff05 279px,#57ff03 281px,#78ff01 282px,#d2ff00 284px,#f2ff00 285px,#fffd00 286px,#ff9d00 291px,#ff5700 301px,#ff3600 311px,#ff3800 332px,#ff6300 345px,#ffff00 372px,#99ff00 396px,#51ff04 429px,#2eff06 474px,#20ff08 722px,#20ff08 725px,#05ff0a 726px,#05ff0a 838px)"></i><i style="background:linear-gradient(90deg,#00ff13 0px,#00ff16 143px,#00ff75 163px,#00faf7 195px,#00f3ff 196px,#007bff 203px,#002fff 207px,#001dff 210px,#0200ff 217px,#1900ff 223px,#4100ff 237px,#3500ff 247px,#0200ff 252px,#0012ff 254px,#0096ff 261px,#00ebff 265px,#00faf9 266px,#00ff91 271px,#00ff45 274px,#00ff0f 280px,#09ff09 282px,#3eff05 283px,#58ff03 285px,#7cff00 286px,#d6ff00 288px,#f3ff00 289px,#fffc00 290px,#ff9e00 295px,#ff5800 305px,#ff3800 314px,#ff3b00 336px,#ff6700 349px,#fffd00 375px,#97ff00 400px,#51ff04 432px,#2eff06 477px,#20ff08 725px,#05ff0a 726px,#05ff0a 838px)"></i><i style="background:linear-gradient(90deg,#00ff13 0px,#00ff17 145px,#00ff70 164px,#00faf5 198px,#00f7ff 199px,#0085ff 206px,#002bff 211px,#0100ff 221px,#1a00ff 228px,#3e00ff 241px,#3200ff 251px,#0002ff 256px,#0016ff 258px,#009aff 265px,#00efff 269px,#00faf6 270px,#00ff8e 275px,#00ff42 278px,#00ff0e 284px,#0aff09 286px,#3fff05 287px,#59ff03 289px,#aeff00 291px,#daff00 292px,#f3ff00 293px,#fffc00 294px,#ff9f00 299px,#ff5900 309px,#ff3b00 318px,#ff3b00 339px,#ff6b00 353px,#fdff00 379px,#97ff00 403px,#50ff04 436px,#2dff06 480px,#1fff08 725px,#05ff0a 726px,#05ff0a 838px)"></i><i style="background:linear-gradient(90deg,#00ff12 0px,#00ff17 147px,#00ff6a 165px,#00fbf3 201px,#00fafc 202px,#00b1ff 207px,#0036ff 214px,#0028ff 216px,#0001ff 225px,#2a00ff 239px,#3a00ff 245px,#2e00ff 255px,#0600ff 259px,#000eff 261px,#0017ff 262px,#009aff 269px,#00eeff 273px,#00faf7 274px,#00ff90 279px,#00ff45 282px,#00ff0f 288px,#09ff09 290px,#3eff05 291px,#58ff03 293px,#7cff00 294px,#d5ff00 296px,#f1ff00 297px,#ffff00 298px,#ffa200 303px,#ff5c00 313px,#ff3e00 322px,#ff3e00 343px,#ff6900 356px,#ffff00 382px,#95ff00 407px,#50ff04 439px,#2dff06 484px,#1fff08 725px,#05ff0a 726px,#05ff0a 838px)"></i><i style="background:linear-gradient(90deg,#00ff12 0px,#00ff17 149px,#00ff65 166px,#00faf5 205px,#00f7ff 206px,#008cff 213px,#0035ff 218px,#0100ff 230px,#3600ff 250px,#2b00ff 259px,#0400ff 263px,#0019ff 266px,#0098ff 273px,#00ecff 277px,#00faf9 278px,#00ff94 283px,#00ff4a 286px,#00ff33 288px,#01ff0a 293px,#07ff09 294px,#3bff05 295px,#54ff03 297px,#73ff01 298px,#ccff00 300px,#ecff00 301px,#fbff00 302px,#ffde00 304px,#ffa600 307px,#ff6000 317px,#ff4100 326px,#ff4100 347px,#ff6c00 360px,#fffd00 385px,#94ff00 411px,#4fff04 443px,#2dff07 487px,#1fff08 725px,#05ff0a 726px,#05ff0a 838px)"></i><i style="background:linear-gradient(90deg,#00ff12 0px,#00ff18 151px,#00ff64 168px,#00fbf2 208px,#00fafc 209px,#00b6ff 214px,#0055ff 220px,#0034ff 222px,#0300ff 235px,#3200ff 254px,#2700ff 263px,#1700ff 265px,#0300ff 267px,#001aff 270px,#003aff 272px,#00aaff 278px,#00fafc 282px,#00ff98 287px,#00ff4e 290px,#00ff3d 291px,#00ff0b 297px,#06ff0a 298px,#38ff06 299px,#51ff04 301px,#69ff02 302px,#c2ff00 304px,#e8ff00 305px,#f7ff00 306px,#fff700 307px,#ffab00 311px,#ff6300 321px,#ff4400 330px,#ff4400 351px,#ff6f00 364px,#feff00 389px,#92ff00 415px,#4eff04 447px,#2cff07 491px,#1fff08 725px,#05ff0a 726px,#05ff0a 838px)"></i><i style="background:linear-gradient(90deg,#00ff12 0px,#00ff16 152px,#00ff61 169px,#00fbef 211px,#00f5ff 213px,#0093ff 220px,#0041ff 225px,#0036ff 226px,#0000ff 239px,#2e00ff 258px,#2300ff 267px,#1400ff 269px,#0000ff 271px,#0029ff 275px,#00aaff 282px,#00fafc 286px,#00ff99 291px,#00ff51 294px,#00ff3e 295px,#00ff0c 301px,#05ff0a 302px,#36ff06 303px,#4fff04 305px,#64ff02 306px,#e5ff00 309px,#fffb00 311px,#ffaf00 315px,#ff6d00 324px,#ff5700 329px,#ff4700 335px,#ff4800 355px,#ff7300 368px,#fffe00 392px,#93ff00 418px,#4eff04 450px,#2cff07 494px,#1fff08 725px,#05ff0a 726px,#05ff0a 838px)"></i><i style="background:linear-gradient(90deg,#00ff12 0px,#00ff16 153px,#00ff60 170px,#00fbf1 214px,#00fafd 215px,#0090ff 223px,#0040ff 228px,#002cff 232px,#0001ff 243px,#2a00ff 261px,#1d00ff 271px,#0001ff 274px,#0027ff 278px,#00a7ff 285px,#00f9ff 289px,#00ff88 295px,#00ff40 298px,#00ff0e 304px,#03ff0a 305px,#32ff06 306px,#58ff03 309px,#dcff00 312px,#fdff00 314px,#ffb700 318px,#ff9400 322px,#ff6500 329px,#ff4a00 338px,#ff4b00 358px,#ff7600 371px,#fffb00 394px,#e8ff00 400px,#91ff00 421px,#4dff04 453px,#2bff07 496px,#1eff08 725px,#05ff0a 726px,#05ff0a 838px)"></i><i style="background:linear-gradient(90deg,#00ff12 0px,#00ff17 154px,#00ff5d 170px,#00fbee 216px,#00f6ff 218px,#008dff 226px,#003fff 231px,#0005ff 246px,#0900ff 252px,#2500ff 265px,#1a00ff 274px,#0002ff 277px,#0027ff 281px,#00a3ff 288px,#00f5ff 292px,#00fbf2 293px,#00ff8e 298px,#00ff45 301px,#00ff10 307px,#08ff09 309px,#3aff05 310px,#54ff03 312px,#77ff01 313px,#cfff00 315px,#e9ff00 316px,#f7ff00 317px,#fff700 318px,#ffbe00 321px,#ffb000 322px,#ff6900 332px,#ff4e00 341px,#ff4e00 361px,#ff7900 374px,#fff900 396px,#fbff00 398px,#8fff00 424px,#4cff04 456px,#2bff07 499px,#1eff08 725px,#05ff0a 726px,#05ff0a 838px)"></i><i style="background:linear-gradient(90deg,#00ff12 0px,#00ff16 154px,#00ff5d 171px,#00fbeb 218px,#00fafc 220px,#0099ff 228px,#0041ff 234px,#000bff 248px,#0200ff 254px,#2100ff 268px,#1600ff 277px,#0003ff 280px,#0028ff 284px,#0059ff 287px,#00b4ff 292px,#00f1ff 295px,#00faf5 296px,#00ff94 301px,#00ff4c 304px,#00ff3c 305px,#00ff0b 311px,#06ff0a 312px,#36ff06 313px,#50ff04 315px,#6bff02 316px,#c3ff00 318px,#e4ff00 319px,#fffe00 321px,#ffb500 325px,#ff6d00 335px,#ff5100 344px,#ff5100 364px,#ff7c00 377px,#fff100 397px,#fdff00 400px,#8eff00 427px,#4cff04 458px,#2bff07 501px,#1eff08 725px,#05ff0a 726px,#05ff0a 838px)"></i><i style="background:linear-gradient(90deg,#00ff12 0px,#00ff17 154px,#00ff5b 170px,#00fbe9 219px,#00f6ff 222px,#0095ff 230px,#004cff 235px,#003fff 237px,#000eff 250px,#0300ff 258px,#1c00ff 270px,#0e00ff 280px,#0400ff 281px,#002aff 286px,#0048ff 288px,#00b3ff 294px,#00f0ff 297px,#00faf7 298px,#00ff97 303px,#00ff4f 306px,#00ff3d 307px,#00ff0c 313px,#04ff0a 314px,#34ff06 315px,#4dff04 317px,#62ff02 318px,#baff00 320px,#e0ff00 321px,#fcff00 323px,#ffb900 327px,#ff7100 337px,#ff5500 346px,#ff5500 366px,#ff7f00 379px,#ffea00 397px,#feff00 401px,#8eff00 428px,#4bff04 460px,#2aff07 503px,#1eff08 725px,#05ff0a 726px,#05ff0a 838px)"></i><i style="background:linear-gradient(90deg,#00ff12 0px,#00ff16 152px,#00ff5b 169px,#00fbe7 219px,#00fbea 220px,#00fafe 222px,#009fff 230px,#004aff 236px,#0011ff 251px,#0300ff 261px,#1800ff 271px,#0b00ff 281px,#0100ff 282px,#0036ff 288px,#00b1ff 295px,#00edff 298px,#00faf9 299px,#00ff9a 304px,#00ff3f 308px,#00ff0e 314px,#03ff0a 315px,#30ff06 316px,#59ff03 319px,#dbff00 322px,#f7ff00 324px,#fff700 325px,#ffbf00 328px,#ff7500 338px,#ff5800 347px,#ff5900 367px,#ff8400 380px,#ffe800 397px,#fffe00 401px,#8cff00 429px,#4aff04 460px,#2aff07 503px,#1dff08 725px,#05ff0a 726px,#05ff0a 838px)"></i><i style="background:linear-gradient(90deg,#00ff12 0px,#00ff17 151px,#00ff59 167px,#00fbe2 218px,#00fbe8 220px,#00f6ff 223px,#00a8ff 230px,#004bff 237px,#0015ff 252px,#0200ff 264px,#1200ff 273px,#0800ff 282px,#0001ff 283px,#0036ff 289px,#00b0ff 296px,#00ebff 299px,#00fafb 300px,#00ff88 306px,#00ff41 309px,#00ff0f 315px,#08ff09 317px,#3aff05 318px,#53ff04 320px,#d2ff00 323px,#f3ff00 325px,#fffd00 326px,#ffc500 329px,#ff7900 339px,#ff5c00 348px,#ff5c00 368px,#ff8800 381px,#ffec00 398px,#fdff00 402px,#8aff00 430px,#49ff04 461px,#29ff07 504px,#1dff08 725px,#05ff0a 726px,#05ff0a 838px)"></i><i style="background:linear-gradient(90deg,#00ff12 0px,#00ff16 149px,#00ff59 166px,#00fdc1 207px,#00fbe6 220px,#00faff 223px,#00a4ff 231px,#0055ff 237px,#0046ff 240px,#0019ff 253px,#0100ff 267px,#0e00ff 274px,#0300ff 283px,#000cff 285px,#0038ff 290px,#00aeff 297px,#00fafd 301px,#00ff8c 307px,#00ff46 310px,#00ff29 313px,#00ff0a 317px,#06ff0a 318px,#37ff06 319px,#50ff04 321px,#71ff01 322px,#c8ff00 324px,#e0ff00 325px,#fcff00 327px,#ffcb00 330px,#ffb800 332px,#ff7800 341px,#ff5f00 349px,#ff6000 369px,#ff8600 381px,#ffea00 398px,#feff00 402px,#8bff00 430px,#48ff04 462px,#29ff07 504px,#1dff08 725px,#05ff0a 726px,#05ff0a 838px)"></i><i style="background:linear-gradient(90deg,#00ff12 0px,#00ff16 146px,#00ff58 163px,#00fdbe 205px,#00fbe5 219px,#00fafe 222px,#00a9ff 230px,#0052ff 237px,#001eff 252px,#0300ff 270px,#0900ff 274px,#0001ff 283px,#003eff 290px,#00b4ff 297px,#00eeff 300px,#00faf8 301px,#00ff87 307px,#00ff42 310px,#00ff10 316px,#07ff09 318px,#38ff06 319px,#51ff04 321px,#ceff00 324px,#efff00 326px,#fdff00 327px,#ffcb00 330px,#ff7f00 340px,#ff6300 349px,#ff6500 369px,#ff8d00 381px,#fff600 399px,#feff00 401px,#88ff00 430px,#48ff04 461px,#28ff07 503px,#1cff08 725px,#05ff0a 726px,#05ff0a 838px)"></i><i style="background:linear-gradient(90deg,#00ff12 0px,#00ff16 143px,#00ff58 160px,#00fdbc 203px,#00fbe4 218px,#00fafd 221px,#00adff 229px,#0057ff 236px,#0022ff 251px,#0300ff 272px,#0006ff 283px,#0043ff 290px,#00baff 297px,#00f4ff 300px,#00fbe3 302px,#00ff82 307px,#00ff3e 310px,#00ff0f 316px,#02ff0a 317px,#2dff06 318px,#54ff03 321px,#d4ff00 324px,#fdff00 327px,#ffca00 330px,#ff8100 340px,#ff6700 349px,#ff6a00 369px,#ff8d00 380px,#fff100 397px,#fdff00 400px,#88ff00 429px,#47ff04 460px,#28ff07 502px,#1cff08 725px,#05ff0a 726px,#05ff0a 838px)"></i><i style="background:linear-gradient(90deg,#00ff12 0px,#00ff17 146px,#00ff57 162px,#00fdbd 204px,#00fbe7 219px,#00f8ff 222px,#00a4ff 230px,#0058ff 236px,#003bff 243px,#001dff 252px,#0200ff 269px,#0800ff 274px,#0003ff 283px,#0042ff 290px,#00bbff 297px,#00f5ff 300px,#00fbe1 302px,#00ff96 306px,#00ff3d 310px,#00ff0d 316px,#03ff0a 317px,#30ff06 318px,#49ff04 320px,#5bff03 321px,#b2ff00 323px,#d8ff00 324px,#fffc00 327px,#ffc600 330px,#ff7d00 340px,#ff6300 349px,#ff6600 369px,#ff8f00 381px,#fff200 398px,#fcff00 401px,#89ff00 429px,#48ff04 460px,#28ff07 503px,#1cff08 725px,#05ff0a 726px,#05ff0a 838px)"></i><i style="background:linear-gradient(90deg,#00ff12 0px,#00ff18 148px,#00ff58 164px,#00fdc2 206px,#00fbe8 219px,#00f6ff 222px,#009fff 230px,#0050ff 236px,#001aff 251px,#0200ff 266px,#0d00ff 273px,#0200ff 282px,#003dff 289px,#00b7ff 296px,#00f2ff 299px,#00faf5 300px,#00ff98 305px,#00ff3e 309px,#00ff0e 315px,#03ff0a 316px,#30ff06 317px,#59ff03 320px,#d8ff00 323px,#fffb00 326px,#ffc400 329px,#ff7a00 339px,#ff5f00 348px,#ff6100 368px,#ff8900 380px,#fff200 398px,#fcff00 401px,#8aff00 429px,#49ff04 460px,#29ff07 503px,#1dff08 725px,#05ff0a 726px,#05ff0a 838px)"></i><i style="background:linear-gradient(90deg,#00ff12 0px,#00ff18 149px,#00ff59 165px,#00fdc2 205px,#00fbe8 218px,#00fafb 220px,#00deff 223px,#0099ff 229px,#004bff 235px,#0015ff 250px,#0200ff 262px,#1200ff 271px,#0700ff 280px,#0002ff 281px,#0038ff 287px,#00b3ff 294px,#00eeff 297px,#00faf8 298px,#00ff9a 303px,#00ff3f 307px,#00ff0e 313px,#02ff0a 314px,#2fff06 315px,#56ff03 318px,#d9ff00 321px,#f5ff00 323px,#fffa00 324px,#ffc200 327px,#ff7800 337px,#ff5c00 346px,#ff5d00 366px,#ff8300 378px,#ffe700 395px,#fffd00 399px,#8aff00 428px,#49ff04 459px,#29ff07 501px,#1dff08 725px,#05ff0a 726px,#05ff0a 838px)"></i><i style="background:linear-gradient(90deg,#00ff12 0px,#00ff19 150px,#00ff5b 166px,#00fbe7 216px,#00fbea 217px,#00fafd 219px,#00a0ff 227px,#004cff 233px,#0012ff 248px,#0200ff 258px,#1800ff 268px,#0c00ff 278px,#0300ff 279px,#0034ff 285px,#00afff 292px,#00ebff 295px,#00fafb 296px,#00ff86 302px,#00ff40 305px,#00ff0f 311px,#02ff0a 312px,#25ff07 313px,#3bff05 314px,#55ff03 316px,#d6ff00 319px,#f5ff00 321px,#fff900 322px,#ffc100 325px,#ff7600 335px,#ff5800 344px,#ff5800 364px,#ff8300 377px,#ffe700 394px,#fffe00 398px,#8dff00 426px,#4bff04 457px,#2aff07 500px,#1dff08 725px,#05ff0a 726px,#05ff0a 838px)"></i><i style="background:linear-gradient(90deg,#00ff12 0px,#00ff16 150px,#00ff5c 167px,#00fbeb 216px,#00fafe 218px,#009aff 226px,#0044ff 232px,#000dff 247px,#0400ff 255px,#1c00ff 267px,#1100ff 276px,#0002ff 278px,#002fff 283px,#00abff 290px,#00fafe 294px,#00ff89 300px,#00ff41 303px,#00ff0f 309px,#08ff09 311px,#3bff05 312px,#54ff03 314px,#d4ff00 317px,#f6ff00 319px,#fff800 320px,#ffc000 323px,#ff9e00 327px,#ff6e00 334px,#ff5500 342px,#ff5700 363px,#ff7d00 375px,#ffed00 394px,#fffe00 397px,#8dff00 425px,#4bff04 456px,#2aff07 499px,#1dff08 725px,#05ff0a 726px,#05ff0a 838px)"></i><i style="background:linear-gradient(90deg,#00ff12 0px,#00ff16 150px,#00ff5e 167px,#00fbec 214px,#00faff 216px,#0095ff 224px,#004aff 229px,#0040ff 230px,#000aff 244px,#0300ff 250px,#2000ff 264px,#1600ff 273px,#0400ff 275px,#002aff 280px,#00a6ff 287px,#00f7ff 291px,#00fcdd 293px,#00ff8d 297px,#00ff45 300px,#00ff10 306px,#08ff09 308px,#3aff05 309px,#53ff03 311px,#77ff01 312px,#ceff00 314px,#e7ff00 315px,#f6ff00 316px,#fff900 317px,#ffc000 320px,#ffb300 321px,#ff6c00 331px,#ff5100 340px,#ff5200 360px,#ff7d00 373px,#ffed00 392px,#fffe00 395px,#8fff00 422px,#4bff04 454px,#2bff07 497px,#1eff08 725px,#05ff0a 726px,#05ff0a 838px)"></i><i style="background:linear-gradient(90deg,#00ff12 0px,#00ff17 150px,#00ff5d 166px,#00fbee 212px,#00f7ff 214px,#008dff 222px,#0040ff 227px,#0005ff 242px,#0900ff 248px,#2500ff 261px,#1a00ff 270px,#0002ff 273px,#0027ff 277px,#00a3ff 284px,#00f5ff 288px,#00fbf2 289px,#00ff8e 294px,#00ff45 297px,#00ff10 303px,#08ff09 305px,#3aff05 306px,#54ff03 308px,#77ff01 309px,#cfff00 311px,#e9ff00 312px,#f7ff00 313px,#fff700 314px,#ffbe00 317px,#ffb000 318px,#ff6900 328px,#ff4e00 337px,#ff4e00 357px,#ff7900 370px,#fff900 392px,#fbff00 394px,#90ff00 420px,#4cff04 452px,#2bff07 495px,#1eff08 725px,#05ff0a 726px,#05ff0a 838px)"></i><i style="background:linear-gradient(90deg,#00ff12 0px,#00ff16 149px,#00ff5f 166px,#00fbef 210px,#00faf9 211px,#00f3ff 212px,#0094ff 219px,#0045ff 224px,#0039ff 225px,#0002ff 239px,#2900ff 258px,#1f00ff 267px,#0200ff 270px,#0023ff 274px,#00a1ff 281px,#00f3ff 285px,#00fbf3 286px,#00ff8f 291px,#00ff46 294px,#00ff10 300px,#08ff09 302px,#3bff05 303px,#54ff03 305px,#77ff01 306px,#cfff00 308px,#eaff00 309px,#f8ff00 310px,#fff500 311px,#ffbc00 314px,#ffad00 315px,#ff6600 325px,#ff4a00 334px,#ff4d00 355px,#ff7900 368px,#fffa00 390px,#faff00 392px,#92ff00 417px,#4dff04 449px,#2bff07 493px,#1eff08 725px,#05ff0a 726px,#05ff0a 838px)"></i><i style="background:linear-gradient(90deg,#00ff12 0px,#00ff17 149px,#00ff62 166px,#00fbf1 208px,#00fafc 209px,#009cff 216px,#003aff 222px,#0100ff 236px,#2e00ff 255px,#2300ff 264px,#0004ff 268px,#0020ff 271px,#009eff 278px,#00f1ff 282px,#00faf5 283px,#00ff90 288px,#00ff46 291px,#00ff10 297px,#08ff09 299px,#3bff05 300px,#55ff03 302px,#77ff01 303px,#d0ff00 305px,#ebff00 306px,#faff00 307px,#fff300 308px,#ffab00 312px,#ff6400 322px,#ff4700 331px,#ff4900 352px,#ff7500 365px,#fffb00 388px,#f6ff00 391px,#92ff00 415px,#4dff04 447px,#2cff07 491px,#1fff08 725px,#05ff0a 726px,#05ff0a 838px)"></i><i style="background:linear-gradient(90deg,#00ff12 0px,#00ff16 148px,#00ff65 166px,#00fbf3 206px,#00faff 207px,#0084ff 215px,#003fff 219px,#0033ff 220px,#0000ff 232px,#3200ff 252px,#2700ff 261px,#0000ff 265px,#001cff 268px,#009bff 275px,#00efff 279px,#00faf7 280px,#00ff91 285px,#00ff47 288px,#00ff21 292px,#01ff0a 295px,#08ff09 296px,#3bff05 297px,#55ff03 299px,#76ff01 300px,#cfff00 302px,#ecff00 303px,#fbff00 304px,#ffdf00 306px,#ffa800 309px,#ff6100 319px,#ff4400 328px,#ff4500 349px,#ff7000 362px,#fffc00 386px,#c6ff00 400px,#94ff00 412px,#4eff04 444px,#2cff07 488px,#1fff08 725px,#05ff0a 726px,#05ff0a 838px)"></i><i style="background:linear-gradient(90deg,#00ff12 0px,#00ff17 148px,#00ff65 165px,#00faf6 204px,#00f6ff 205px,#008cff 212px,#0034ff 217px,#0200ff 229px,#3600ff 249px,#2b00ff 258px,#0400ff 262px,#0019ff 265px,#0099ff 272px,#00edff 276px,#00faf9 277px,#00ff93 282px,#00ff48 285px,#00ff2a 288px,#01ff0a 292px,#08ff09 293px,#3bff05 294px,#55ff03 296px,#75ff01 297px,#ceff00 299px,#edff00 300px,#fbff00 301px,#ffde00 303px,#ffa600 306px,#ff5f00 316px,#ff4100 325px,#ff4200 346px,#ff6c00 359px,#fffd00 384px,#94ff00 410px,#4fff04 442px,#2dff07 486px,#1fff08 725px,#05ff0a 726px,#05ff0a 838px)"></i><i style="background:linear-gradient(90deg,#00ff12 0px,#00ff16 147px,#00ff6a 165px,#00faf9 202px,#00f1ff 203px,#0082ff 210px,#003aff 214px,#002dff 215px,#0300ff 226px,#3a00ff 246px,#2f00ff 255px,#0003ff 260px,#0016ff 262px,#0096ff 269px,#00eaff 273px,#00fafa 274px,#00ff94 279px,#00ff49 282px,#00ff33 284px,#01ff0a 289px,#08ff09 290px,#3bff05 291px,#55ff03 293px,#74ff01 294px,#cdff00 296px,#eeff00 297px,#fcff00 298px,#ffa400 303px,#ff5d00 313px,#ff3e00 322px,#ff3e00 343px,#ff6d00 357px,#fffe00 382px,#96ff00 407px,#4fff04 440px,#2dff06 484px,#1fff08 725px,#05ff0a 726px,#05ff0a 838px)"></i><i style="background:linear-gradient(90deg,#00ff13 0px,#00ff16 146px,#00ff6f 165px,#00fbf4 199px,#00fafe 200px,#0089ff 207px,#002cff 212px,#0000ff 222px,#1600ff 228px,#3d00ff 243px,#3200ff 252px,#0000ff 257px,#0013ff 259px,#0094ff 266px,#00e9ff 270px,#00fafb 271px,#00ff94 276px,#00ff49 279px,#00ff2a 282px,#01ff0a 286px,#08ff09 287px,#3cff05 288px,#56ff03 290px,#75ff01 291px,#ceff00 293px,#efff00 294px,#feff00 295px,#ffa100 300px,#ff5b00 310px,#ff3b00 319px,#ff3e00 341px,#ff6a00 354px,#feff00 380px,#95ff00 405px,#50ff04 437px,#2dff06 481px,#1fff08 725px,#05ff0a 726px,#05ff0a 838px)"></i><i style="background:linear-gradient(90deg,#00ff13 0px,#00ff16 145px,#00ff79 166px,#00faf7 197px,#00f4ff 198px,#007dff 205px,#0031ff 209px,#0022ff 211px,#0200ff 219px,#1600ff 224px,#4100ff 240px,#3600ff 249px,#0300ff 254px,#0011ff 256px,#0093ff 263px,#00e9ff 267px,#00fafb 268px,#00ff94 273px,#00ff48 276px,#00ff18 281px,#02ff0a 283px,#08ff09 284px,#3dff05 285px,#57ff03 287px,#77ff01 288px,#d1ff00 290px,#f1ff00 291px,#fffe00 292px,#ff9f00 297px,#ff5900 307px,#ff3800 316px,#ff3b00 338px,#ff6600 351px,#fffd00 377px,#97ff00 402px,#50ff04 435px,#2eff06 479px,#20ff08 725px,#05ff0a 726px,#05ff0a 838px)"></i><i style="background:linear-gradient(90deg,#00ff13 0px,#00ff18 145px,#00ff82 167px,#00faf7 195px,#00f6ff 196px,#0067ff 204px,#002cff 207px,#001aff 210px,#0100ff 216px,#1a00ff 222px,#4500ff 237px,#3500ff 247px,#0000ff 252px,#0016ff 254px,#009cff 261px,#00f2ff 265px,#00fbf2 266px,#00ff88 271px,#00ff55 273px,#00ff40 274px,#00ff0c 280px,#05ff0a 281px,#37ff06 282px,#61ff02 285px,#e8ff00 288px,#f9ff00 289px,#fff300 290px,#ffa600 294px,#ff9100 296px,#ff5000 306px,#ff3600 314px,#ff3600 335px,#ff6600 349px,#fdff00 376px,#98ff00 400px,#50ff04 433px,#2eff06 477px,#20ff08 724px,#20ff08 725px,#05ff0a 726px,#05ff0a 838px)"></i><i style="background:linear-gradient(90deg,#00ff13 0px,#00ff16 144px,#00ff96 171px,#00faf8 194px,#00f5ff 195px,#0077ff 202px,#0027ff 206px,#0001ff 214px,#2000ff 222px,#4600ff 236px,#3b00ff 245px,#0002ff 251px,#000cff 252px,#008fff 259px,#00fafe 264px,#00ff97 269px,#00ff4a 272px,#00ff33 274px,#01ff0a 279px,#08ff09 280px,#3dff05 281px,#57ff03 283px,#74ff01 284px,#ceff00 286px,#f2ff00 287px,#fffd00 288px,#ff9d00 293px,#ff5d00 302px,#ff4a00 306px,#ff3400 313px,#ff3500 334px,#ff6000 347px,#fdff00 375px,#98ff00 399px,#51ff04 431px,#2eff06 476px,#20ff08 723px,#20ff08 725px,#05ff0a 726px,#05ff0a 838px);height:1px"></i></div><svg width="1000" height="795" viewBox="0 0 1000 795"><line x1="124" y1="263.5" x2="960" y2="263.5" stroke="#000" stroke-width="4" stroke-dasharray="8.6 7.1"/><line x1="127" y1="566.8" x2="963" y2="566.8" stroke="#000" stroke-width="4" stroke-dasharray="8.4 7.28"/><defs><clipPath id="ca"><rect x="127" y="15.7" width="835" height="331.6"/></clipPath><clipPath id="cb2"><rect x="127" y="361.4" width="838" height="334"/></clipPath></defs><polyline clip-path="url(#ca)" points="551.6,14.0 550.5,35.0 549.4,48.0 545.2,57.0 538.8,67.0 531.3,78.0 522.7,87.0 518.0,95.0 516.8,104.0 518.5,112.0 523.8,121.0 530.2,131.5 535.6,142.0 540.9,153.0 548.4,164.0 550.5,174.0 550.5,197.0 548.4,206.0 543.0,219.0 534.5,229.0 523.8,240.0 518.5,249.0 516.8,261.5 519.5,270.0 528.0,283.0 533.4,293.5 538.8,304.0 546.2,315.0 550.0,326.0 550.5,349.0" fill="none" stroke="#000" stroke-width="5" stroke-linejoin="round"/><path clip-path="url(#cb2)" d="M408.0,355.0C407.4,356.1 406.6,359.1 404.6,361.4C402.6,363.7 399.5,365.7 396.0,368.7C392.5,371.7 387.1,375.8 383.8,379.4C380.5,382.9 377.8,386.4 376.3,390.0C374.8,393.6 374.4,397.1 374.6,400.7C374.8,404.3 375.3,407.8 377.4,411.4C379.5,415.0 383.4,418.5 387.0,422.1C390.6,425.7 394.5,429.2 398.8,432.8C403.1,436.4 408.2,439.9 412.7,443.5C417.1,447.1 421.2,450.6 425.5,454.2C429.8,457.8 435.1,461.3 438.3,464.9C441.5,468.4 443.4,471.9 444.7,475.5C446.0,479.1 446.9,482.6 446.2,486.2C445.5,489.8 443.1,493.3 440.4,496.9C437.7,500.5 433.4,504.0 429.8,507.6C426.2,511.2 422.6,515.2 419.0,518.3C415.4,521.4 412.3,522.9 408.0,526.0C403.7,529.1 397.8,533.1 393.4,536.7C389.0,540.3 384.7,543.8 381.7,547.4C378.7,551.0 376.5,554.5 375.3,558.1C374.1,561.7 374.1,565.2 374.6,568.7C375.1,572.2 376.2,575.8 378.5,579.4C380.8,583.0 384.4,586.5 388.1,590.1C391.8,593.7 396.4,597.2 400.9,600.8C405.3,604.4 410.0,607.9 414.8,611.5C419.6,615.1 425.4,618.6 429.8,622.2C434.2,625.8 438.8,629.4 441.5,632.9C444.2,636.4 445.2,640.0 445.8,643.5C446.4,647.0 446.4,650.6 445.2,654.2C443.9,657.8 441.2,661.3 438.3,664.9C435.4,668.5 431.2,672.0 427.6,675.6C424.1,679.2 419.9,683.4 417.0,686.3C414.1,689.1 412.3,690.6 410.5,692.7C408.7,694.8 406.8,698.0 406.0,699.0" fill="none" stroke="#000" stroke-width="6.2"/><rect x="127.3" y="15.7" width="834.1" height="331.6" fill="none" stroke="#000" stroke-width="2.6"/><rect x="127.3" y="361.4" width="837.1" height="334" fill="none" stroke="#000" stroke-width="2.6"/><path d="M127.3,349.5V332.3M196.8,349.5V339.3M266.3,349.5V339.3M335.8,349.5V339.3M405.3,349.5V339.3M474.8,349.5V339.3M544.4,349.5V332.3M613.9,349.5V339.3M683.4,349.5V339.3M752.9,349.5V339.3M822.4,349.5V339.3M891.9,349.5V339.3M961.4,349.5V332.3M127.3,697.8V680.4M197.1,697.8V687.4M266.8,697.8V687.4M336.6,697.8V687.4M406.3,697.8V687.4M476.1,697.8V687.4M545.9,697.8V680.4M615.6,697.8V687.4M685.4,697.8V687.4M755.1,697.8V687.4M824.9,697.8V687.4M894.6,697.8V687.4M964.4,697.8V680.4M124.5,15.7H142.3M124.5,57.8H135.3M124.5,98.9H142.3M124.5,140.4H135.3M124.5,182.0H142.3M124.5,222.9H135.3M124.5,263.5H142.3M124.5,305.4H135.3M124.5,347.3H142.3M124.5,402.0H142.3M124.5,444.0H135.3M124.5,485.5H142.3M124.5,528.2H135.3M124.5,567.3H142.3M124.5,611.4H135.3M124.5,652.3H142.3M124.5,693.2H135.3" stroke="#000" stroke-width="2.4" fill="none"/><rect x="822.6" y="42" width="130" height="207.5" fill="#fff" stroke="#000" stroke-width="4.5"/><defs><linearGradient id="cb" x1="0" y1="1" x2="0" y2="0"><stop offset="0.000" stop-color="#ff0000"/><stop offset="0.040" stop-color="#ff2000"/><stop offset="0.120" stop-color="#ff8000"/><stop offset="0.210" stop-color="#ffff00"/><stop offset="0.330" stop-color="#80ff00"/><stop offset="0.450" stop-color="#00ff0a"/><stop offset="0.570" stop-color="#00ff96"/><stop offset="0.680" stop-color="#00faff"/><stop offset="0.790" stop-color="#0080ff"/><stop offset="0.900" stop-color="#0000ff"/><stop offset="1.000" stop-color="#8000ff"/></linearGradient></defs><rect x="833.5" y="60.5" width="29.5" height="170" fill="url(#cb)" stroke="#000" stroke-width="3.5"/><text x="868" y="89" font-weight="bold" font-size="40">Max</text><text x="868" y="229.5" font-weight="bold" font-size="40">Min</text><text x="149.3" y="67.6" font-weight="bold" font-size="55">a</text><text x="149.5" y="411.5" font-weight="bold" font-size="53">b</text><text x="121.0" y="31.3" font-size="42" text-anchor="end">270</text><text x="121.0" y="110.0" font-size="42" text-anchor="end">180</text><text x="121.0" y="194.8" font-size="42" text-anchor="end">90</text><text x="120.5" y="279.5" font-size="42" text-anchor="end">0</text><text x="121.5" y="358.8" font-size="42" text-anchor="end">90</text><text x="121.5" y="416.8" font-size="42" text-anchor="end">180</text><text x="121.0" y="499.8" font-size="42" text-anchor="end">90</text><text x="110.8" y="582.4" font-size="42" text-anchor="end">0</text><text x="121.8" y="666.0" font-size="42" text-anchor="end">90</text><rect x="65.2" y="345.6" width="11.6" height="4.6"/><rect x="66.6" y="653.6" width="11.3" height="4.2"/><text x="131.2" y="733.6" font-size="42" text-anchor="middle">100</text><text x="550.3" y="733.6" font-size="42" text-anchor="middle">200</text><text x="966.5" y="733.6" font-size="42" text-anchor="middle">300</text><text transform="translate(468.6,772.8) scale(1.25,1)" font-size="42">&#956;</text><text y="772.8" font-size="42"><tspan font-size="25" y="790.8" x="495">0</tspan><tspan font-style="italic" x="506" y="772.8">H</tspan><tspan x="546">(mT)</tspan></text><text transform="translate(42.3,353.6) rotate(-90)" font-size="54">(&#176;)</text><ellipse cx="30" cy="379.8" rx="12.8" ry="10.2" transform="rotate(45 30 379.8)" fill="none" stroke="#000" stroke-width="2.6"/><line x1="4.5" y1="375" x2="53" y2="384.8" stroke="#000" stroke-width="2.3" stroke-linecap="round"/></svg></body></html>
